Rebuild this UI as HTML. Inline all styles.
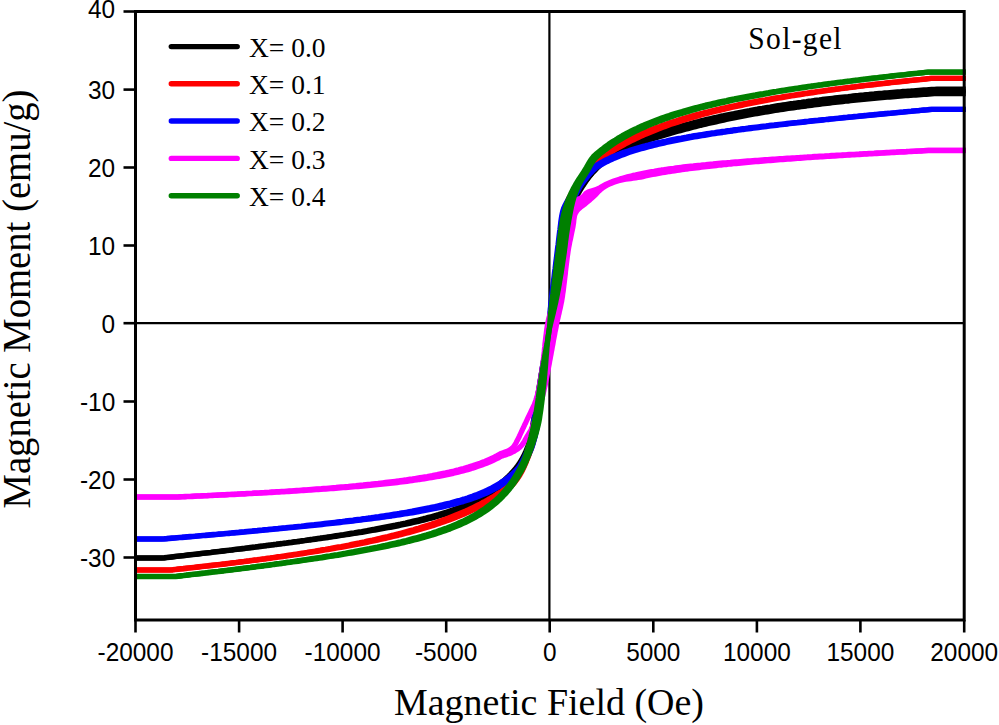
<!DOCTYPE html>
<html><head><meta charset="utf-8"><title>chart</title>
<style>
html,body{margin:0;padding:0;background:#fff;}
body{width:999px;height:725px;position:relative;overflow:hidden;font-family:"Liberation Sans",sans-serif;}
</style></head><body>
<svg width="999" height="725" viewBox="0 0 999 725" style="position:absolute;left:0;top:0">
<rect x="0" y="0" width="999" height="725" fill="#fff"/>
<g stroke="#000" stroke-width="2.2" fill="none">
<line x1="549.4" y1="11.5" x2="549.4" y2="620.0"/>
<line x1="135.5" y1="323.2" x2="964.2" y2="323.2"/>
</g>
<g id="curves">
<path d="M135.5,557.8 L138.1,557.8 L140.8,557.8 L143.4,557.8 L146.0,557.8 L148.6,557.8 L151.3,557.8 L153.9,557.8 L156.5,557.8 L159.1,557.8 L161.7,557.8 L164.3,557.7 L166.9,557.4 L169.5,557.1 L172.1,556.8 L174.7,556.5 L177.3,556.2 L179.9,555.9 L182.6,555.6 L185.2,555.3 L187.8,555.0 L190.4,554.7 L193.0,554.4 L195.6,554.1 L198.2,553.8 L200.8,553.5 L203.4,553.2 L206.0,552.9 L208.6,552.6 L211.2,552.3 L213.8,551.9 L216.4,551.6 L219.0,551.3 L221.6,551.0 L224.2,550.7 L226.8,550.4 L229.4,550.1 L232.0,549.8 L234.6,549.4 L237.2,549.1 L239.8,548.8 L242.4,548.5 L245.0,548.2 L247.6,547.8 L250.2,547.5 L252.8,547.2 L255.4,546.9 L258.0,546.5 L260.6,546.2 L263.2,545.9 L265.8,545.5 L268.4,545.2 L271.0,544.9 L273.6,544.5 L276.2,544.2 L278.8,543.8 L281.4,543.5 L284.0,543.1 L286.6,542.8 L289.2,542.4 L291.8,542.1 L294.4,541.7 L297.0,541.4 L299.6,541.0 L302.2,540.6 L304.8,540.3 L307.4,539.9 L310.0,539.5 L312.6,539.2 L315.2,538.8 L317.8,538.4 L320.4,538.0 L323.0,537.7 L325.6,537.3 L328.2,536.9 L330.8,536.5 L333.4,536.1 L335.9,535.7 L338.5,535.3 L341.1,534.9 L343.7,534.5 L346.3,534.0 L348.9,533.6 L351.5,533.2 L354.1,532.8 L356.6,532.3 L359.2,531.9 L361.8,531.5 L364.4,531.0 L367.0,530.6 L369.6,530.1 L372.1,529.6 L374.7,529.2 L377.3,528.7 L379.9,528.2 L382.4,527.7 L385.0,527.2 L387.6,526.7 L390.2,526.2 L392.7,525.7 L395.3,525.2 L397.9,524.6 L400.4,524.1 L403.0,523.5 L405.5,523.0 L408.1,522.4 L410.6,521.8 L413.2,521.2 L415.7,520.6 L418.3,520.0 L420.8,519.4 L423.4,518.7 L425.9,518.1 L428.4,517.4 L431.0,516.7 L433.5,516.0 L436.0,515.3 L438.5,514.6 L441.0,513.8 L443.5,513.0 L446.0,512.2 L448.5,511.4 L451.0,510.6 L453.4,509.7 L455.9,508.8 L458.3,507.9 L460.8,506.9 L463.2,506.0 L465.6,505.0 L468.0,503.9 L470.4,502.8 L472.7,501.7 L475.0,500.6 L477.4,499.4 L479.7,498.1 L481.9,496.8 L484.2,495.5 L486.4,494.1 L488.5,492.7 L490.7,491.2 L492.8,489.7 L494.8,488.1 L496.8,486.4 L498.8,484.7 L500.8,483.0 L502.8,481.4 L504.8,479.7 L506.7,477.9 L508.6,476.1 L510.4,474.3 L512.2,472.4 L513.9,470.4 L515.6,468.4 L517.2,466.4 L518.7,464.4 L520.1,462.2 L521.5,460.0 L522.7,457.7 L523.9,455.4 L525.1,453.1 L526.2,450.7 L527.1,448.3 L528.0,445.9 L528.8,443.4 L529.6,441.0 L530.2,438.5 L530.8,436.0 L531.4,433.5 L531.9,430.9 L532.4,428.4 L532.9,425.8 L533.4,423.2 L533.8,420.7 L534.3,418.1 L534.8,415.6 L535.2,413.0 L535.7,410.4 L536.1,407.9 L536.5,405.3 L536.9,402.7 L537.3,400.1 L537.7,397.5 L538.1,394.9 L538.6,392.3 L539.0,389.7 L539.4,387.2 L539.8,384.6 L540.2,382.0 L540.6,379.4 L541.0,376.8 L541.4,374.2 L541.8,371.6 L542.2,369.0 L542.6,366.4 L543.1,363.9 L543.5,361.3 L543.9,358.7 L544.4,356.1 L544.9,353.5 L545.4,350.9 L545.9,348.4 L546.4,345.8 L547.0,343.2 L547.4,340.6 L547.7,338.0 L548.1,335.4 L548.5,332.8 L548.9,330.2 L549.3,327.7 L549.5,325.0 L549.7,322.4 L549.8,319.8 L550.0,317.1 L550.3,314.5 L550.5,311.9 L550.8,309.3 L551.1,306.7 L551.4,304.1 L551.7,301.5 L552.0,298.9 L552.3,296.3 L552.6,293.7 L553.0,291.1 L553.3,288.5 L553.6,285.9 L553.9,283.3 L554.3,280.7 L554.6,278.1 L554.9,275.5 L555.2,272.9 L555.6,270.3 L555.9,267.7 L556.2,265.1 L556.6,262.5 L556.9,259.9 L557.2,257.3 L557.6,254.7 L557.9,252.1 L558.3,249.5 L558.6,246.9 L558.9,244.3 L559.3,241.7 L559.6,239.1 L559.9,236.5 L560.3,233.9 L560.6,231.3 L561.0,228.7 L561.3,226.1 L561.7,223.5 L562.1,220.8 L562.5,218.2 L563.1,215.6 L563.8,212.9 L564.7,210.2 L565.9,207.7 L567.1,205.2 L568.4,202.8 L569.9,200.6 L571.5,198.4 L573.2,196.3 L574.8,194.2 L576.5,192.1 L578.2,190.1 L579.9,188.1 L581.5,186.0 L583.2,184.0 L584.8,181.9 L586.5,179.9 L588.1,177.8 L589.8,175.7 L591.5,173.7 L593.2,171.6 L595.0,169.6 L596.8,167.5 L598.6,165.5 L600.3,163.4 L602.1,161.4 L603.9,159.2 L605.7,157.2 L607.6,155.2 L609.5,153.4 L611.6,151.6 L613.7,149.8 L615.9,148.2 L618.2,146.7 L620.5,145.5 L622.8,144.4 L625.3,143.5 L627.8,142.7 L630.3,141.9 L632.9,141.1 L635.4,140.3 L637.9,139.5 L640.3,138.6 L642.8,137.8 L645.3,136.9 L647.8,136.1 L650.3,135.2 L652.7,134.4 L655.2,133.6 L657.7,132.8 L660.2,132.1 L662.8,131.3 L665.3,130.5 L667.8,129.8 L670.3,129.0 L672.8,128.3 L675.3,127.6 L677.9,126.9 L680.4,126.2 L682.9,125.5 L685.4,124.8 L688.0,124.2 L690.5,123.5 L693.1,122.8 L695.6,122.2 L698.1,121.6 L700.7,120.9 L703.2,120.3 L705.8,119.7 L708.3,119.1 L710.9,118.5 L713.5,117.9 L716.0,117.4 L718.6,116.8 L721.1,116.2 L723.7,115.7 L726.3,115.1 L728.8,114.6 L731.4,114.1 L734.0,113.6 L736.5,113.0 L739.1,112.5 L741.7,112.0 L744.3,111.5 L746.8,111.0 L749.4,110.6 L752.0,110.1 L754.6,109.6 L757.1,109.2 L759.7,108.7 L762.3,108.3 L764.9,107.8 L767.5,107.4 L770.1,107.0 L772.7,106.5 L775.2,106.1 L777.8,105.7 L780.4,105.3 L783.0,104.9 L785.6,104.5 L788.2,104.1 L790.8,103.7 L793.4,103.4 L796.0,103.0 L798.6,102.6 L801.2,102.3 L803.8,101.9 L806.4,101.6 L809.0,101.2 L811.6,100.9 L814.2,100.5 L816.8,100.2 L819.4,99.9 L822.0,99.5 L824.6,99.2 L827.2,98.9 L829.8,98.6 L832.4,98.3 L835.0,98.0 L837.6,97.7 L840.2,97.4 L842.8,97.1 L845.4,96.8 L848.0,96.6 L850.6,96.3 L853.2,96.0 L855.8,95.7 L858.5,95.5 L861.1,95.2 L863.7,95.0 L866.3,94.7 L868.9,94.5 L871.5,94.2 L874.1,94.0 L876.7,93.7 L879.3,93.5 L882.0,93.3 L884.6,93.0 L887.2,92.8 L889.8,92.6 L892.4,92.4 L895.0,92.2 L897.6,92.0 L900.2,91.8 L902.9,91.5 L905.5,91.3 L908.1,91.1 L910.7,91.0 L913.3,90.8 L915.9,90.6 L918.5,90.4 L921.2,90.2 L923.8,90.0 L926.4,89.9 L929.0,89.7 L931.6,89.5 L934.2,89.3 L936.9,89.2 L939.5,89.2 L942.1,89.2 L944.7,89.2 L947.3,89.2 L950.0,89.2 L952.6,89.2 L955.2,89.2 L957.8,89.2 L960.4,89.2 L963.1,89.2 L965.7,89.2 L965.7,93.6 L963.1,93.6 L960.4,93.6 L957.8,93.6 L955.2,93.6 L952.6,93.6 L950.0,93.6 L947.3,93.6 L944.7,93.6 L942.1,93.6 L939.5,93.6 L936.9,93.6 L934.2,93.7 L931.6,93.9 L929.0,94.1 L926.4,94.3 L923.8,94.4 L921.2,94.6 L918.5,94.8 L915.9,95.0 L913.3,95.2 L910.7,95.4 L908.1,95.5 L905.5,95.7 L902.9,95.9 L900.2,96.2 L897.6,96.4 L895.0,96.6 L892.4,96.8 L889.8,97.0 L887.2,97.2 L884.6,97.4 L882.0,97.7 L879.3,97.9 L876.7,98.1 L874.1,98.4 L871.5,98.6 L868.9,98.9 L866.3,99.1 L863.7,99.4 L861.1,99.6 L858.5,99.9 L855.8,100.1 L853.2,100.4 L850.6,100.7 L848.0,101.0 L845.4,101.2 L842.8,101.5 L840.2,101.8 L837.6,102.1 L835.0,102.4 L832.4,102.7 L829.8,103.0 L827.2,103.3 L824.6,103.6 L822.0,103.9 L819.4,104.3 L816.8,104.6 L814.2,104.9 L811.6,105.3 L809.0,105.6 L806.4,106.0 L803.8,106.3 L801.2,106.7 L798.6,107.0 L796.0,107.4 L793.4,107.8 L790.8,108.1 L788.2,108.5 L785.6,108.9 L783.0,109.3 L780.4,109.7 L777.8,110.1 L775.2,110.5 L772.7,110.9 L770.1,111.4 L767.5,111.8 L764.9,112.2 L762.3,112.7 L759.7,113.1 L757.1,113.6 L754.6,114.0 L752.0,114.5 L749.4,115.0 L746.8,115.4 L744.3,115.9 L741.7,116.4 L739.1,116.9 L736.5,117.4 L734.0,118.0 L731.4,118.5 L728.8,119.0 L726.3,119.5 L723.7,120.1 L721.1,120.6 L718.6,121.2 L716.0,121.8 L713.5,122.3 L710.9,122.9 L708.3,123.5 L705.8,124.1 L703.2,124.7 L700.7,125.3 L698.1,126.0 L695.6,126.6 L693.1,127.2 L690.5,127.9 L688.0,128.6 L685.4,129.2 L682.9,129.9 L680.4,130.6 L677.9,131.3 L675.3,132.0 L672.8,132.7 L670.3,133.4 L667.8,134.2 L665.3,134.9 L662.8,135.7 L660.2,136.5 L657.7,137.2 L655.2,138.0 L652.7,138.8 L650.3,139.6 L647.8,140.5 L645.3,141.3 L642.8,142.2 L640.3,143.0 L637.9,143.9 L635.4,144.7 L632.9,145.5 L630.3,146.3 L627.8,147.1 L625.3,147.9 L622.8,148.8 L620.5,149.7 L618.2,150.8 L615.9,152.0 L613.7,153.4 L611.6,154.8 L609.5,156.3 L607.6,157.9 L605.7,159.5 L603.9,161.3 L602.1,163.1 L600.3,164.9 L598.6,166.7 L596.8,168.5 L595.0,170.3 L593.2,172.1 L591.5,174.0 L589.8,175.9 L588.3,178.0 L586.7,180.1 L585.3,182.3 L583.8,184.5 L582.4,186.7 L581.0,188.9 L579.6,191.1 L578.3,193.4 L577.0,195.6 L575.7,197.9 L574.4,200.2 L573.2,202.5 L572.2,204.8 L571.4,207.1 L570.6,209.5 L569.9,211.9 L569.4,214.3 L569.0,216.7 L568.7,219.2 L568.3,221.8 L568.0,224.3 L567.6,226.9 L567.2,229.6 L566.9,232.2 L566.5,234.8 L566.1,237.3 L565.7,239.9 L565.4,242.5 L565.0,245.1 L564.7,247.7 L564.3,250.3 L563.9,252.9 L563.5,255.5 L563.1,258.1 L562.7,260.7 L562.4,263.3 L562.0,265.9 L561.6,268.5 L561.1,271.1 L560.7,273.7 L560.3,276.3 L559.9,278.9 L559.4,281.4 L559.0,284.0 L558.5,286.6 L558.1,289.2 L557.6,291.8 L557.1,294.4 L556.6,297.0 L556.1,299.5 L555.5,302.1 L554.9,304.7 L554.4,307.2 L553.8,309.8 L553.2,312.4 L552.6,314.9 L552.0,317.5 L551.3,320.0 L550.7,322.6 L550.0,325.1 L549.3,327.7 L548.9,330.2 L548.5,332.8 L548.1,335.4 L547.7,338.0 L547.4,340.6 L547.0,343.2 L546.8,345.8 L546.6,348.4 L546.4,351.1 L546.1,353.7 L545.9,356.3 L545.7,358.9 L545.5,361.5 L545.3,364.1 L545.1,366.7 L544.8,369.4 L544.6,372.0 L544.3,374.6 L544.1,377.2 L543.8,379.8 L543.5,382.4 L543.2,385.0 L542.9,387.6 L542.6,390.2 L542.3,392.9 L542.0,395.5 L541.7,398.1 L541.3,400.7 L541.0,403.3 L540.6,405.9 L540.3,408.5 L539.9,411.1 L539.5,413.7 L539.1,416.3 L538.6,418.9 L538.2,421.5 L537.7,424.1 L537.1,426.7 L536.5,429.3 L535.9,431.8 L535.2,434.4 L534.4,436.9 L533.6,439.5 L532.7,442.0 L531.7,444.5 L530.7,446.9 L529.6,449.4 L528.4,451.8 L527.2,454.1 L525.9,456.4 L524.6,458.7 L523.2,461.0 L521.8,463.3 L520.4,465.5 L518.8,467.7 L517.1,469.7 L515.4,471.7 L513.6,473.7 L511.8,475.6 L510.0,477.5 L508.1,479.4 L506.1,481.2 L504.1,482.9 L502.1,484.6 L500.1,486.2 L498.1,487.9 L496.0,489.6 L493.9,491.3 L491.8,492.8 L489.6,494.3 L487.4,495.8 L485.1,497.1 L482.9,498.5 L480.6,499.8 L478.2,501.0 L475.9,502.2 L473.5,503.4 L471.1,504.5 L468.7,505.6 L466.3,506.6 L463.9,507.6 L461.4,508.6 L458.9,509.5 L456.5,510.4 L454.0,511.3 L451.5,512.1 L449.0,513.0 L446.5,513.8 L444.0,514.6 L441.5,515.3 L438.9,516.0 L436.4,516.8 L433.9,517.5 L431.4,518.1 L428.8,518.8 L426.3,519.5 L423.7,520.1 L421.2,520.7 L418.6,521.3 L416.1,521.9 L413.5,522.5 L410.9,523.1 L408.4,523.6 L405.8,524.2 L403.2,524.7 L400.7,525.2 L398.1,525.8 L395.5,526.3 L392.9,526.8 L390.4,527.3 L387.8,527.7 L385.2,528.2 L382.6,528.7 L380.0,529.2 L377.5,529.6 L374.9,530.1 L372.3,530.5 L369.7,531.0 L367.1,531.4 L364.5,531.8 L361.9,532.3 L359.4,532.7 L356.8,533.1 L354.2,533.5 L351.6,533.9 L349.0,534.3 L346.4,534.7 L343.8,535.1 L341.2,535.5 L338.6,535.9 L336.0,536.3 L333.4,536.7 L330.9,537.1 L328.3,537.5 L325.7,537.8 L323.1,538.2 L320.5,538.6 L317.9,538.9 L315.3,539.3 L312.7,539.7 L310.1,540.0 L307.5,540.4 L304.9,540.7 L302.3,541.1 L299.7,541.5 L297.1,541.8 L294.5,542.2 L291.9,542.5 L289.3,542.8 L286.7,543.2 L284.1,543.5 L281.5,543.9 L278.9,544.2 L276.3,544.5 L273.7,544.9 L271.1,545.2 L268.5,545.5 L265.9,545.9 L263.3,546.2 L260.7,546.5 L258.1,546.8 L255.5,547.2 L252.9,547.5 L250.3,547.8 L247.7,548.1 L245.1,548.5 L242.5,548.8 L239.9,549.1 L237.3,549.4 L234.7,549.7 L232.1,550.0 L229.5,550.4 L226.9,550.7 L224.3,551.0 L221.6,551.3 L219.0,551.6 L216.4,551.9 L213.8,552.2 L211.2,552.5 L208.6,552.8 L206.0,553.1 L203.4,553.4 L200.8,553.7 L198.2,554.0 L195.6,554.3 L193.0,554.6 L190.4,554.9 L187.8,555.2 L185.2,555.5 L182.6,555.8 L180.0,556.1 L177.4,556.4 L174.8,556.7 L172.2,557.0 L169.6,557.3 L167.0,557.7 L164.3,558.0 L161.7,558.1 L159.1,558.1 L156.5,558.1 L153.9,558.1 L151.3,558.1 L148.6,558.1 L146.0,558.1 L143.4,558.1 L140.8,558.1 L138.1,558.1 L135.5,558.1Z" fill="#000000" stroke="none"/>
<path d="M135.5,557.8 L138.1,557.8 L140.8,557.8 L143.4,557.8 L146.0,557.8 L148.6,557.8 L151.3,557.8 L153.9,557.8 L156.5,557.8 L159.1,557.8 L161.7,557.8 L164.3,557.7 L166.9,557.4 L169.5,557.1 L172.1,556.8 L174.7,556.5 L177.3,556.2 L179.9,555.9 L182.6,555.6 L185.2,555.3 L187.8,555.0 L190.4,554.7 L193.0,554.4 L195.6,554.1 L198.2,553.8 L200.8,553.5 L203.4,553.2 L206.0,552.9 L208.6,552.6 L211.2,552.3 L213.8,551.9 L216.4,551.6 L219.0,551.3 L221.6,551.0 L224.2,550.7 L226.8,550.4 L229.4,550.1 L232.0,549.8 L234.6,549.4 L237.2,549.1 L239.8,548.8 L242.4,548.5 L245.0,548.2 L247.6,547.8 L250.2,547.5 L252.8,547.2 L255.4,546.9 L258.0,546.5 L260.6,546.2 L263.2,545.9 L265.8,545.5 L268.4,545.2 L271.0,544.9 L273.6,544.5 L276.2,544.2 L278.8,543.8 L281.4,543.5 L284.0,543.1 L286.6,542.8 L289.2,542.4 L291.8,542.1 L294.4,541.7 L297.0,541.4 L299.6,541.0 L302.2,540.6 L304.8,540.3 L307.4,539.9 L310.0,539.5 L312.6,539.2 L315.2,538.8 L317.8,538.4 L320.4,538.0 L323.0,537.7 L325.6,537.3 L328.2,536.9 L330.8,536.5 L333.4,536.1 L335.9,535.7 L338.5,535.3 L341.1,534.9 L343.7,534.5 L346.3,534.0 L348.9,533.6 L351.5,533.2 L354.1,532.8 L356.6,532.3 L359.2,531.9 L361.8,531.5 L364.4,531.0 L367.0,530.6 L369.6,530.1 L372.1,529.6 L374.7,529.2 L377.3,528.7 L379.9,528.2 L382.4,527.7 L385.0,527.2 L387.6,526.7 L390.2,526.2 L392.7,525.7 L395.3,525.2 L397.9,524.6 L400.4,524.1 L403.0,523.5 L405.5,523.0 L408.1,522.4 L410.6,521.8 L413.2,521.2 L415.7,520.6 L418.3,520.0 L420.8,519.4 L423.4,518.7 L425.9,518.1 L428.4,517.4 L431.0,516.7 L433.5,516.0 L436.0,515.3 L438.5,514.6 L441.0,513.8 L443.5,513.0 L446.0,512.2 L448.5,511.4 L451.0,510.6 L453.4,509.7 L455.9,508.8 L458.3,507.9 L460.8,506.9 L463.2,506.0 L465.6,505.0 L468.0,503.9 L470.4,502.8 L472.7,501.7 L475.0,500.6 L477.4,499.4 L479.7,498.1 L481.9,496.8 L484.2,495.5 L486.4,494.1 L488.5,492.7 L490.7,491.2 L492.8,489.7 L494.8,488.1 L496.8,486.4 L498.8,484.7 L500.8,483.0 L502.8,481.4 L504.8,479.7 L506.7,477.9 L508.6,476.1 L510.4,474.3 L512.2,472.4 L513.9,470.4 L515.6,468.4 L517.2,466.4 L518.7,464.4 L520.1,462.2 L521.5,460.0 L522.7,457.7 L523.9,455.4 L525.1,453.1 L526.2,450.7 L527.1,448.3 L528.0,445.9 L528.8,443.4 L529.6,441.0 L530.2,438.5 L530.8,436.0 L531.4,433.5 L531.9,430.9 L532.4,428.4 L532.9,425.8 L533.4,423.2 L533.8,420.7 L534.3,418.1 L534.8,415.6 L535.2,413.0 L535.7,410.4 L536.1,407.9 L536.5,405.3 L536.9,402.7 L537.3,400.1 L537.7,397.5 L538.1,394.9 L538.6,392.3 L539.0,389.7 L539.4,387.2 L539.8,384.6 L540.2,382.0 L540.6,379.4 L541.0,376.8 L541.4,374.2 L541.8,371.6 L542.2,369.0 L542.6,366.4 L543.1,363.9 L543.5,361.3 L543.9,358.7 L544.4,356.1 L544.9,353.5 L545.4,350.9 L545.9,348.4 L546.4,345.8 L547.0,343.2 L547.4,340.6 L547.7,338.0 L548.1,335.4 L548.5,332.8 L548.9,330.2 L549.3,327.7 L549.5,325.0 L549.7,322.4 L549.8,319.8 L550.0,317.1 L550.3,314.5 L550.5,311.9 L550.8,309.3 L551.1,306.7 L551.4,304.1 L551.7,301.5 L552.0,298.9 L552.3,296.3 L552.6,293.7 L553.0,291.1 L553.3,288.5 L553.6,285.9 L553.9,283.3 L554.3,280.7 L554.6,278.1 L554.9,275.5 L555.2,272.9 L555.6,270.3 L555.9,267.7 L556.2,265.1 L556.6,262.5 L556.9,259.9 L557.2,257.3 L557.6,254.7 L557.9,252.1 L558.3,249.5 L558.6,246.9 L558.9,244.3 L559.3,241.7 L559.6,239.1 L559.9,236.5 L560.3,233.9 L560.6,231.3 L561.0,228.7 L561.3,226.1 L561.7,223.5 L562.1,220.8 L562.5,218.2 L563.1,215.6 L563.8,212.9 L564.7,210.2 L565.9,207.7 L567.1,205.2 L568.4,202.8 L569.9,200.6 L571.5,198.4 L573.2,196.3 L574.8,194.2 L576.5,192.1 L578.2,190.1 L579.9,188.1 L581.5,186.0 L583.2,184.0 L584.8,181.9 L586.5,179.9 L588.1,177.8 L589.8,175.7 L591.5,173.7 L593.2,171.6 L595.0,169.6 L596.8,167.5 L598.6,165.5 L600.3,163.4 L602.1,161.4 L603.9,159.2 L605.7,157.2 L607.6,155.2 L609.5,153.4 L611.6,151.6 L613.7,149.8 L615.9,148.2 L618.2,146.7 L620.5,145.5 L622.8,144.4 L625.3,143.5 L627.8,142.7 L630.3,141.9 L632.9,141.1 L635.4,140.3 L637.9,139.5 L640.3,138.6 L642.8,137.8 L645.3,136.9 L647.8,136.1 L650.3,135.2 L652.7,134.4 L655.2,133.6 L657.7,132.8 L660.2,132.1 L662.8,131.3 L665.3,130.5 L667.8,129.8 L670.3,129.0 L672.8,128.3 L675.3,127.6 L677.9,126.9 L680.4,126.2 L682.9,125.5 L685.4,124.8 L688.0,124.2 L690.5,123.5 L693.1,122.8 L695.6,122.2 L698.1,121.6 L700.7,120.9 L703.2,120.3 L705.8,119.7 L708.3,119.1 L710.9,118.5 L713.5,117.9 L716.0,117.4 L718.6,116.8 L721.1,116.2 L723.7,115.7 L726.3,115.1 L728.8,114.6 L731.4,114.1 L734.0,113.6 L736.5,113.0 L739.1,112.5 L741.7,112.0 L744.3,111.5 L746.8,111.0 L749.4,110.6 L752.0,110.1 L754.6,109.6 L757.1,109.2 L759.7,108.7 L762.3,108.3 L764.9,107.8 L767.5,107.4 L770.1,107.0 L772.7,106.5 L775.2,106.1 L777.8,105.7 L780.4,105.3 L783.0,104.9 L785.6,104.5 L788.2,104.1 L790.8,103.7 L793.4,103.4 L796.0,103.0 L798.6,102.6 L801.2,102.3 L803.8,101.9 L806.4,101.6 L809.0,101.2 L811.6,100.9 L814.2,100.5 L816.8,100.2 L819.4,99.9 L822.0,99.5 L824.6,99.2 L827.2,98.9 L829.8,98.6 L832.4,98.3 L835.0,98.0 L837.6,97.7 L840.2,97.4 L842.8,97.1 L845.4,96.8 L848.0,96.6 L850.6,96.3 L853.2,96.0 L855.8,95.7 L858.5,95.5 L861.1,95.2 L863.7,95.0 L866.3,94.7 L868.9,94.5 L871.5,94.2 L874.1,94.0 L876.7,93.7 L879.3,93.5 L882.0,93.3 L884.6,93.0 L887.2,92.8 L889.8,92.6 L892.4,92.4 L895.0,92.2 L897.6,92.0 L900.2,91.8 L902.9,91.5 L905.5,91.3 L908.1,91.1 L910.7,91.0 L913.3,90.8 L915.9,90.6 L918.5,90.4 L921.2,90.2 L923.8,90.0 L926.4,89.9 L929.0,89.7 L931.6,89.5 L934.2,89.3 L936.9,89.2 L939.5,89.2 L942.1,89.2 L944.7,89.2 L947.3,89.2 L950.0,89.2 L952.6,89.2 L955.2,89.2 L957.8,89.2 L960.4,89.2 L963.1,89.2 L965.7,89.2" fill="none" stroke="#000000" stroke-width="5.3" stroke-linejoin="round"/>
<path d="M135.5,558.1 L138.1,558.1 L140.8,558.1 L143.4,558.1 L146.0,558.1 L148.6,558.1 L151.3,558.1 L153.9,558.1 L156.5,558.1 L159.1,558.1 L161.7,558.1 L164.3,558.0 L167.0,557.7 L169.6,557.3 L172.2,557.0 L174.8,556.7 L177.4,556.4 L180.0,556.1 L182.6,555.8 L185.2,555.5 L187.8,555.2 L190.4,554.9 L193.0,554.6 L195.6,554.3 L198.2,554.0 L200.8,553.7 L203.4,553.4 L206.0,553.1 L208.6,552.8 L211.2,552.5 L213.8,552.2 L216.4,551.9 L219.0,551.6 L221.6,551.3 L224.3,551.0 L226.9,550.7 L229.5,550.4 L232.1,550.0 L234.7,549.7 L237.3,549.4 L239.9,549.1 L242.5,548.8 L245.1,548.5 L247.7,548.1 L250.3,547.8 L252.9,547.5 L255.5,547.2 L258.1,546.8 L260.7,546.5 L263.3,546.2 L265.9,545.9 L268.5,545.5 L271.1,545.2 L273.7,544.9 L276.3,544.5 L278.9,544.2 L281.5,543.9 L284.1,543.5 L286.7,543.2 L289.3,542.8 L291.9,542.5 L294.5,542.2 L297.1,541.8 L299.7,541.5 L302.3,541.1 L304.9,540.7 L307.5,540.4 L310.1,540.0 L312.7,539.7 L315.3,539.3 L317.9,538.9 L320.5,538.6 L323.1,538.2 L325.7,537.8 L328.3,537.5 L330.9,537.1 L333.4,536.7 L336.0,536.3 L338.6,535.9 L341.2,535.5 L343.8,535.1 L346.4,534.7 L349.0,534.3 L351.6,533.9 L354.2,533.5 L356.8,533.1 L359.4,532.7 L361.9,532.3 L364.5,531.8 L367.1,531.4 L369.7,531.0 L372.3,530.5 L374.9,530.1 L377.5,529.6 L380.0,529.2 L382.6,528.7 L385.2,528.2 L387.8,527.7 L390.4,527.3 L392.9,526.8 L395.5,526.3 L398.1,525.8 L400.7,525.2 L403.2,524.7 L405.8,524.2 L408.4,523.6 L410.9,523.1 L413.5,522.5 L416.1,521.9 L418.6,521.3 L421.2,520.7 L423.7,520.1 L426.3,519.5 L428.8,518.8 L431.4,518.1 L433.9,517.5 L436.4,516.8 L438.9,516.0 L441.5,515.3 L444.0,514.6 L446.5,513.8 L449.0,513.0 L451.5,512.1 L454.0,511.3 L456.5,510.4 L458.9,509.5 L461.4,508.6 L463.9,507.6 L466.3,506.6 L468.7,505.6 L471.1,504.5 L473.5,503.4 L475.9,502.2 L478.2,501.0 L480.6,499.8 L482.9,498.5 L485.1,497.1 L487.4,495.8 L489.6,494.3 L491.8,492.8 L493.9,491.3 L496.0,489.6 L498.1,487.9 L500.1,486.2 L502.1,484.6 L504.1,482.9 L506.1,481.2 L508.1,479.4 L510.0,477.5 L511.8,475.6 L513.6,473.7 L515.4,471.7 L517.1,469.7 L518.8,467.7 L520.4,465.5 L521.8,463.3 L523.2,461.0 L524.6,458.7 L525.9,456.4 L527.2,454.1 L528.4,451.8 L529.6,449.4 L530.7,446.9 L531.7,444.5 L532.7,442.0 L533.6,439.5 L534.4,436.9 L535.2,434.4 L535.9,431.8 L536.5,429.3 L537.1,426.7 L537.7,424.1 L538.2,421.5 L538.6,418.9 L539.1,416.3 L539.5,413.7 L539.9,411.1 L540.3,408.5 L540.6,405.9 L541.0,403.3 L541.3,400.7 L541.7,398.1 L542.0,395.5 L542.3,392.9 L542.6,390.2 L542.9,387.6 L543.2,385.0 L543.5,382.4 L543.8,379.8 L544.1,377.2 L544.3,374.6 L544.6,372.0 L544.8,369.4 L545.1,366.7 L545.3,364.1 L545.5,361.5 L545.7,358.9 L545.9,356.3 L546.1,353.7 L546.4,351.1 L546.6,348.4 L546.8,345.8 L547.0,343.2 L547.4,340.6 L547.7,338.0 L548.1,335.4 L548.5,332.8 L548.9,330.2 L549.3,327.7 L550.0,325.1 L550.7,322.6 L551.3,320.0 L552.0,317.5 L552.6,314.9 L553.2,312.4 L553.8,309.8 L554.4,307.2 L554.9,304.7 L555.5,302.1 L556.1,299.5 L556.6,297.0 L557.1,294.4 L557.6,291.8 L558.1,289.2 L558.5,286.6 L559.0,284.0 L559.4,281.4 L559.9,278.9 L560.3,276.3 L560.7,273.7 L561.1,271.1 L561.6,268.5 L562.0,265.9 L562.4,263.3 L562.7,260.7 L563.1,258.1 L563.5,255.5 L563.9,252.9 L564.3,250.3 L564.7,247.7 L565.0,245.1 L565.4,242.5 L565.7,239.9 L566.1,237.3 L566.5,234.8 L566.9,232.2 L567.2,229.6 L567.6,226.9 L568.0,224.3 L568.3,221.8 L568.7,219.2 L569.0,216.7 L569.4,214.3 L569.9,211.9 L570.6,209.5 L571.4,207.1 L572.2,204.8 L573.2,202.5 L574.4,200.2 L575.7,197.9 L577.0,195.6 L578.3,193.4 L579.6,191.1 L581.0,188.9 L582.4,186.7 L583.8,184.5 L585.3,182.3 L586.7,180.1 L588.3,178.0 L589.8,175.9 L591.5,174.0 L593.2,172.1 L595.0,170.3 L596.8,168.5 L598.6,166.7 L600.3,164.9 L602.1,163.1 L603.9,161.3 L605.7,159.5 L607.6,157.9 L609.5,156.3 L611.6,154.8 L613.7,153.4 L615.9,152.0 L618.2,150.8 L620.5,149.7 L622.8,148.8 L625.3,147.9 L627.8,147.1 L630.3,146.3 L632.9,145.5 L635.4,144.7 L637.9,143.9 L640.3,143.0 L642.8,142.2 L645.3,141.3 L647.8,140.5 L650.3,139.6 L652.7,138.8 L655.2,138.0 L657.7,137.2 L660.2,136.5 L662.8,135.7 L665.3,134.9 L667.8,134.2 L670.3,133.4 L672.8,132.7 L675.3,132.0 L677.9,131.3 L680.4,130.6 L682.9,129.9 L685.4,129.2 L688.0,128.6 L690.5,127.9 L693.1,127.2 L695.6,126.6 L698.1,126.0 L700.7,125.3 L703.2,124.7 L705.8,124.1 L708.3,123.5 L710.9,122.9 L713.5,122.3 L716.0,121.8 L718.6,121.2 L721.1,120.6 L723.7,120.1 L726.3,119.5 L728.8,119.0 L731.4,118.5 L734.0,118.0 L736.5,117.4 L739.1,116.9 L741.7,116.4 L744.3,115.9 L746.8,115.4 L749.4,115.0 L752.0,114.5 L754.6,114.0 L757.1,113.6 L759.7,113.1 L762.3,112.7 L764.9,112.2 L767.5,111.8 L770.1,111.4 L772.7,110.9 L775.2,110.5 L777.8,110.1 L780.4,109.7 L783.0,109.3 L785.6,108.9 L788.2,108.5 L790.8,108.1 L793.4,107.8 L796.0,107.4 L798.6,107.0 L801.2,106.7 L803.8,106.3 L806.4,106.0 L809.0,105.6 L811.6,105.3 L814.2,104.9 L816.8,104.6 L819.4,104.3 L822.0,103.9 L824.6,103.6 L827.2,103.3 L829.8,103.0 L832.4,102.7 L835.0,102.4 L837.6,102.1 L840.2,101.8 L842.8,101.5 L845.4,101.2 L848.0,101.0 L850.6,100.7 L853.2,100.4 L855.8,100.1 L858.5,99.9 L861.1,99.6 L863.7,99.4 L866.3,99.1 L868.9,98.9 L871.5,98.6 L874.1,98.4 L876.7,98.1 L879.3,97.9 L882.0,97.7 L884.6,97.4 L887.2,97.2 L889.8,97.0 L892.4,96.8 L895.0,96.6 L897.6,96.4 L900.2,96.2 L902.9,95.9 L905.5,95.7 L908.1,95.5 L910.7,95.4 L913.3,95.2 L915.9,95.0 L918.5,94.8 L921.2,94.6 L923.8,94.4 L926.4,94.3 L929.0,94.1 L931.6,93.9 L934.2,93.7 L936.9,93.6 L939.5,93.6 L942.1,93.6 L944.7,93.6 L947.3,93.6 L950.0,93.6 L952.6,93.6 L955.2,93.6 L957.8,93.6 L960.4,93.6 L963.1,93.6 L965.7,93.6" fill="none" stroke="#000000" stroke-width="5.3" stroke-linejoin="round"/>
<path d="M135.5,569.9 L138.2,569.9 L140.8,569.9 L143.5,569.9 L146.2,569.9 L148.8,569.9 L151.5,569.9 L154.1,569.9 L156.8,569.9 L159.4,569.9 L162.1,569.9 L164.7,569.9 L167.4,569.9 L170.0,569.9 L172.7,569.7 L175.3,569.3 L177.9,569.0 L180.6,568.7 L183.2,568.5 L185.9,568.2 L188.5,567.9 L191.2,567.6 L193.8,567.3 L196.4,567.0 L199.1,566.7 L201.7,566.4 L204.4,566.1 L207.0,565.8 L209.6,565.5 L212.3,565.2 L214.9,564.9 L217.6,564.6 L220.2,564.3 L222.8,564.0 L225.5,563.7 L228.1,563.3 L230.7,563.0 L233.4,562.7 L236.0,562.4 L238.6,562.0 L241.3,561.7 L243.9,561.4 L246.6,561.0 L249.2,560.7 L251.8,560.3 L254.5,560.0 L257.1,559.7 L259.7,559.3 L262.4,558.9 L265.0,558.6 L267.6,558.2 L270.3,557.9 L272.9,557.5 L275.5,557.1 L278.1,556.7 L280.8,556.4 L283.4,556.0 L286.0,555.6 L288.7,555.2 L291.3,554.8 L293.9,554.4 L296.5,554.0 L299.2,553.6 L301.8,553.2 L304.4,552.8 L307.0,552.4 L309.7,551.9 L312.3,551.5 L314.9,551.1 L317.5,550.6 L320.1,550.2 L322.8,549.7 L325.4,549.3 L328.0,548.8 L330.6,548.4 L333.2,547.9 L335.8,547.4 L338.4,546.9 L341.1,546.5 L343.7,546.0 L346.3,545.5 L348.9,545.0 L351.5,544.4 L354.1,543.9 L356.7,543.4 L359.3,542.9 L361.9,542.3 L364.5,541.8 L367.1,541.2 L369.7,540.6 L372.3,540.1 L374.9,539.5 L377.5,538.9 L380.0,538.3 L382.6,537.7 L385.2,537.1 L387.8,536.5 L390.4,535.8 L392.9,535.2 L395.5,534.5 L398.1,533.9 L400.6,533.2 L403.2,532.5 L405.8,531.8 L408.3,531.1 L410.9,530.4 L413.4,529.7 L416.0,528.9 L418.5,528.2 L421.1,527.4 L423.6,526.6 L426.1,525.8 L428.6,525.0 L431.2,524.2 L433.7,523.3 L436.2,522.5 L438.7,521.6 L441.2,520.7 L443.7,519.8 L446.2,518.9 L448.6,518.0 L451.1,517.0 L453.6,516.0 L456.0,515.0 L458.5,514.0 L460.9,513.0 L463.4,511.9 L465.8,510.9 L468.2,509.8 L470.6,508.7 L473.0,507.5 L475.3,506.4 L477.7,505.2 L480.1,504.0 L482.4,502.7 L484.7,501.5 L487.0,500.2 L489.3,498.9 L491.6,497.5 L493.9,496.2 L496.1,494.8 L498.3,493.3 L500.6,491.9 L502.8,490.5 L504.8,488.9 L506.7,487.2 L508.6,485.4 L510.4,483.5 L512.2,481.5 L513.8,479.5 L515.3,477.5 L516.8,475.3 L518.1,473.0 L519.4,470.7 L520.6,468.4 L521.8,466.1 L522.8,463.7 L523.8,461.3 L524.8,458.8 L525.6,456.3 L526.5,453.8 L527.3,451.3 L528.1,448.7 L528.8,446.2 L529.4,443.7 L529.9,441.1 L530.4,438.5 L530.9,436.0 L531.3,433.4 L531.8,430.8 L532.2,428.1 L532.6,425.5 L533.1,422.9 L533.5,420.3 L534.0,417.7 L534.4,415.1 L534.9,412.4 L535.3,409.8 L535.8,407.2 L536.2,404.6 L536.7,402.0 L537.1,399.4 L537.5,396.8 L538.0,394.1 L538.4,391.5 L538.9,388.9 L539.3,386.3 L539.7,383.7 L540.2,381.0 L540.6,378.4 L541.0,375.8 L541.5,373.2 L541.9,370.6 L542.4,367.9 L542.8,365.3 L543.3,362.7 L543.7,360.1 L544.2,357.5 L544.7,354.9 L545.2,352.2 L545.7,349.6 L546.3,347.0 L546.8,344.4 L547.3,341.8 L547.7,339.2 L548.1,336.6 L548.5,333.9 L548.9,331.3 L549.3,328.7 L549.6,326.0 L549.7,323.4 L549.9,320.7 L550.1,318.0 L550.3,315.4 L550.5,312.7 L550.8,310.1 L551.1,307.4 L551.4,304.8 L551.7,302.1 L552.0,299.5 L552.3,296.9 L552.7,294.2 L553.0,291.6 L553.3,289.0 L553.6,286.3 L554.0,283.7 L554.3,281.1 L554.6,278.4 L555.0,275.8 L555.3,273.2 L555.6,270.5 L556.0,267.9 L556.3,265.3 L556.7,262.6 L557.0,260.0 L557.3,257.4 L557.7,254.7 L558.0,252.1 L558.3,249.5 L558.7,246.9 L559.0,244.2 L559.3,241.6 L559.6,238.9 L560.0,236.3 L560.3,233.6 L560.7,231.0 L561.1,228.4 L561.4,225.7 L561.8,223.1 L562.3,220.4 L562.8,217.8 L563.3,215.1 L563.9,212.5 L564.6,209.8 L565.4,207.2 L566.3,204.6 L567.3,202.0 L568.3,199.5 L569.5,197.0 L570.8,194.6 L572.2,192.2 L573.6,189.9 L575.0,187.6 L576.5,185.4 L577.9,183.1 L579.5,180.9 L581.0,178.7 L582.5,176.5 L584.1,174.3 L585.6,172.1 L587.1,169.9 L588.7,167.7 L590.3,165.6 L592.0,163.5 L593.8,161.4 L595.7,159.5 L597.7,157.7 L599.9,156.0 L602.2,154.5 L604.5,153.2 L606.9,151.9 L609.1,150.5 L611.4,149.1 L613.7,147.7 L616.0,146.4 L618.3,145.0 L620.6,143.8 L623.0,142.5 L625.3,141.2 L627.7,140.0 L630.1,138.8 L632.5,137.7 L634.9,136.5 L637.3,135.4 L639.8,134.3 L642.2,133.3 L644.7,132.2 L647.1,131.2 L649.6,130.2 L652.1,129.2 L654.6,128.2 L657.0,127.3 L659.5,126.4 L662.0,125.4 L664.6,124.6 L667.1,123.7 L669.6,122.8 L672.1,122.0 L674.7,121.2 L677.2,120.4 L679.7,119.6 L682.3,118.8 L684.8,118.0 L687.4,117.3 L689.9,116.5 L692.5,115.8 L695.1,115.1 L697.6,114.4 L700.2,113.7 L702.8,113.1 L705.4,112.4 L707.9,111.8 L710.5,111.1 L713.1,110.5 L715.7,109.9 L718.3,109.3 L720.9,108.7 L723.5,108.1 L726.1,107.5 L728.7,106.9 L731.3,106.4 L733.9,105.8 L736.5,105.3 L739.1,104.7 L741.7,104.2 L744.3,103.7 L746.9,103.2 L749.5,102.7 L752.1,102.2 L754.7,101.7 L757.3,101.2 L759.9,100.7 L762.6,100.2 L765.2,99.8 L767.8,99.3 L770.4,98.8 L773.0,98.4 L775.7,97.9 L778.3,97.5 L780.9,97.1 L783.5,96.6 L786.1,96.2 L788.8,95.8 L791.4,95.4 L794.0,95.0 L796.6,94.6 L799.3,94.2 L801.9,93.8 L804.5,93.4 L807.2,93.0 L809.8,92.6 L812.4,92.2 L815.0,91.9 L817.7,91.5 L820.3,91.1 L822.9,90.8 L825.6,90.4 L828.2,90.0 L830.8,89.7 L833.5,89.3 L836.1,89.0 L838.7,88.7 L841.4,88.3 L844.0,88.0 L846.6,87.6 L849.3,87.3 L851.9,87.0 L854.6,86.7 L857.2,86.3 L859.8,86.0 L862.5,85.7 L865.1,85.4 L867.7,85.1 L870.4,84.8 L873.0,84.5 L875.7,84.2 L878.3,83.9 L880.9,83.6 L883.6,83.3 L886.2,83.0 L888.9,82.7 L891.5,82.4 L894.2,82.1 L896.8,81.8 L899.4,81.5 L902.1,81.3 L904.7,81.0 L907.4,80.7 L910.0,80.4 L912.6,80.2 L915.3,79.9 L917.9,79.6 L920.6,79.4 L923.2,79.1 L925.9,78.9 L928.5,78.6 L931.2,78.3 L933.8,78.3 L936.5,78.3 L939.1,78.3 L941.8,78.3 L944.4,78.3 L947.1,78.3 L949.7,78.3 L952.4,78.3 L955.0,78.3 L957.7,78.3 L960.4,78.3 L963.0,78.3 L965.7,78.3 L965.7,78.4 L963.0,78.4 L960.4,78.4 L957.7,78.4 L955.0,78.4 L952.4,78.4 L949.7,78.4 L947.1,78.4 L944.4,78.4 L941.8,78.4 L939.1,78.4 L936.5,78.4 L933.8,78.4 L931.2,78.4 L928.5,78.7 L925.9,79.0 L923.2,79.3 L920.6,79.6 L918.0,79.9 L915.3,80.1 L912.7,80.4 L910.0,80.7 L907.4,81.0 L904.7,81.3 L902.1,81.5 L899.5,81.8 L896.8,82.1 L894.2,82.4 L891.5,82.7 L888.9,83.0 L886.3,83.3 L883.6,83.6 L881.0,83.9 L878.3,84.2 L875.7,84.5 L873.1,84.8 L870.4,85.1 L867.8,85.4 L865.2,85.7 L862.5,86.0 L859.9,86.4 L857.2,86.7 L854.6,87.0 L852.0,87.4 L849.3,87.7 L846.7,88.0 L844.1,88.4 L841.4,88.7 L838.8,89.1 L836.2,89.4 L833.5,89.8 L830.9,90.1 L828.3,90.5 L825.6,90.9 L823.0,91.2 L820.4,91.6 L817.7,92.0 L815.1,92.4 L812.5,92.8 L809.9,93.2 L807.2,93.5 L804.6,93.9 L802.0,94.4 L799.4,94.8 L796.7,95.2 L794.1,95.6 L791.5,96.0 L788.9,96.5 L786.3,96.9 L783.6,97.3 L781.0,97.8 L778.4,98.2 L775.8,98.7 L773.2,99.2 L770.6,99.6 L767.9,100.1 L765.3,100.6 L762.7,101.1 L760.1,101.6 L757.5,102.1 L754.9,102.6 L752.3,103.1 L749.7,103.6 L747.1,104.2 L744.5,104.7 L741.9,105.3 L739.3,105.8 L736.7,106.4 L734.1,106.9 L731.5,107.5 L728.9,108.1 L726.3,108.7 L723.8,109.3 L721.2,109.9 L718.6,110.6 L716.0,111.2 L713.4,111.8 L710.9,112.5 L708.3,113.2 L705.7,113.8 L703.2,114.5 L700.6,115.2 L698.1,115.9 L695.5,116.7 L693.0,117.4 L690.4,118.2 L687.9,118.9 L685.3,119.7 L682.8,120.5 L680.3,121.3 L677.8,122.1 L675.2,122.9 L672.7,123.8 L670.2,124.6 L667.7,125.5 L665.2,126.4 L662.7,127.3 L660.3,128.3 L657.8,129.2 L655.3,130.2 L652.9,131.2 L650.4,132.2 L648.0,133.2 L645.5,134.2 L643.1,135.3 L640.7,136.4 L638.3,137.5 L635.9,138.6 L633.5,139.8 L631.1,140.9 L628.8,142.1 L626.4,143.3 L624.1,144.6 L621.8,145.9 L619.5,147.2 L617.2,148.5 L614.9,149.8 L612.7,151.2 L610.4,152.6 L608.1,154.0 L605.8,155.3 L603.5,156.7 L601.4,158.1 L599.4,159.6 L597.4,161.3 L595.6,163.2 L593.9,165.1 L592.3,167.1 L590.7,169.2 L589.2,171.4 L587.7,173.6 L586.2,175.8 L584.7,178.0 L583.2,180.2 L581.8,182.4 L580.5,184.7 L579.2,187.0 L578.0,189.3 L576.8,191.7 L575.7,194.1 L574.6,196.4 L573.6,198.8 L572.8,201.2 L572.0,203.6 L571.4,206.1 L570.8,208.7 L570.3,211.2 L569.8,213.7 L569.4,216.3 L568.9,218.9 L568.5,221.5 L568.1,224.1 L567.7,226.7 L567.3,229.3 L566.9,231.9 L566.5,234.5 L566.1,237.1 L565.8,239.7 L565.4,242.4 L565.1,245.0 L564.7,247.6 L564.4,250.3 L564.0,252.9 L563.6,255.6 L563.2,258.2 L562.8,260.8 L562.4,263.5 L562.0,266.1 L561.6,268.7 L561.2,271.3 L560.8,274.0 L560.4,276.6 L559.9,279.2 L559.5,281.8 L559.0,284.5 L558.6,287.1 L558.1,289.7 L557.6,292.3 L557.1,294.9 L556.6,297.6 L556.0,300.2 L555.5,302.8 L554.9,305.4 L554.3,308.0 L553.7,310.6 L553.1,313.1 L552.5,315.7 L551.8,318.3 L551.2,320.9 L550.5,323.5 L549.8,326.1 L549.3,328.7 L548.9,331.3 L548.5,333.9 L548.1,336.6 L547.7,339.2 L547.3,341.8 L547.0,344.4 L546.8,347.1 L546.6,349.8 L546.3,352.4 L546.1,355.1 L545.9,357.7 L545.6,360.3 L545.4,363.0 L545.1,365.6 L544.9,368.3 L544.6,370.9 L544.3,373.6 L544.0,376.2 L543.8,378.9 L543.4,381.5 L543.1,384.2 L542.8,386.8 L542.5,389.4 L542.1,392.1 L541.8,394.7 L541.4,397.3 L541.1,400.0 L540.7,402.6 L540.3,405.3 L539.9,407.9 L539.6,410.5 L539.2,413.2 L538.7,415.8 L538.3,418.4 L537.9,421.0 L537.4,423.7 L536.9,426.3 L536.4,428.9 L535.9,431.5 L535.3,434.1 L534.7,436.7 L534.1,439.4 L533.4,441.9 L532.6,444.5 L531.8,447.1 L530.9,449.7 L530.0,452.2 L529.1,454.7 L528.1,457.2 L527.1,459.7 L526.2,462.2 L525.1,464.7 L524.0,467.1 L522.9,469.5 L521.6,471.9 L520.3,474.3 L518.9,476.6 L517.4,478.9 L515.8,481.0 L514.1,483.1 L512.3,485.2 L510.4,487.2 L508.4,489.1 L506.3,490.8 L504.2,492.5 L501.9,494.0 L499.7,495.4 L497.4,496.8 L495.1,498.2 L492.8,499.6 L490.5,501.0 L488.2,502.3 L485.9,503.6 L483.5,504.8 L481.1,506.1 L478.8,507.3 L476.4,508.4 L474.0,509.6 L471.5,510.7 L469.1,511.8 L466.7,512.9 L464.2,514.0 L461.8,515.0 L459.3,516.0 L456.8,517.0 L454.4,518.0 L451.9,519.0 L449.4,519.9 L446.9,520.8 L444.4,521.7 L441.9,522.6 L439.3,523.5 L436.8,524.3 L434.3,525.1 L431.7,525.9 L429.2,526.7 L426.7,527.5 L424.1,528.3 L421.6,529.0 L419.0,529.8 L416.4,530.5 L413.9,531.2 L411.3,531.9 L408.7,532.6 L406.2,533.3 L403.6,534.0 L401.0,534.6 L398.4,535.3 L395.9,535.9 L393.3,536.5 L390.7,537.1 L388.1,537.7 L385.5,538.3 L382.9,538.9 L380.3,539.5 L377.7,540.1 L375.1,540.6 L372.5,541.2 L369.9,541.7 L367.3,542.3 L364.7,542.8 L362.1,543.3 L359.5,543.8 L356.9,544.4 L354.3,544.9 L351.7,545.4 L349.0,545.8 L346.4,546.3 L343.8,546.8 L341.2,547.3 L338.6,547.7 L336.0,548.2 L333.4,548.7 L330.7,549.1 L328.1,549.6 L325.5,550.0 L322.9,550.4 L320.2,550.9 L317.6,551.3 L315.0,551.7 L312.4,552.1 L309.8,552.5 L307.1,553.0 L304.5,553.4 L301.9,553.8 L299.2,554.2 L296.6,554.6 L294.0,554.9 L291.4,555.3 L288.7,555.7 L286.1,556.1 L283.5,556.5 L280.8,556.8 L278.2,557.2 L275.6,557.6 L272.9,557.9 L270.3,558.3 L267.7,558.7 L265.0,559.0 L262.4,559.4 L259.8,559.7 L257.1,560.1 L254.5,560.4 L251.9,560.7 L249.2,561.1 L246.6,561.4 L244.0,561.7 L241.3,562.1 L238.7,562.4 L236.1,562.7 L233.4,563.0 L230.8,563.4 L228.1,563.7 L225.5,564.0 L222.9,564.3 L220.2,564.6 L217.6,564.9 L215.0,565.2 L212.3,565.5 L209.7,565.8 L207.0,566.1 L204.4,566.4 L201.8,566.7 L199.1,567.0 L196.5,567.3 L193.8,567.6 L191.2,567.9 L188.5,568.2 L185.9,568.5 L183.3,568.8 L180.6,569.1 L178.0,569.3 L175.3,569.6 L172.7,570.0 L170.0,570.2 L167.4,570.2 L164.7,570.2 L162.1,570.2 L159.4,570.2 L156.8,570.2 L154.1,570.2 L151.5,570.2 L148.8,570.2 L146.2,570.2 L143.5,570.2 L140.8,570.2 L138.2,570.2 L135.5,570.2Z" fill="#ff0000" stroke="none"/>
<path d="M135.5,569.9 L138.2,569.9 L140.8,569.9 L143.5,569.9 L146.2,569.9 L148.8,569.9 L151.5,569.9 L154.1,569.9 L156.8,569.9 L159.4,569.9 L162.1,569.9 L164.7,569.9 L167.4,569.9 L170.0,569.9 L172.7,569.7 L175.3,569.3 L177.9,569.0 L180.6,568.7 L183.2,568.5 L185.9,568.2 L188.5,567.9 L191.2,567.6 L193.8,567.3 L196.4,567.0 L199.1,566.7 L201.7,566.4 L204.4,566.1 L207.0,565.8 L209.6,565.5 L212.3,565.2 L214.9,564.9 L217.6,564.6 L220.2,564.3 L222.8,564.0 L225.5,563.7 L228.1,563.3 L230.7,563.0 L233.4,562.7 L236.0,562.4 L238.6,562.0 L241.3,561.7 L243.9,561.4 L246.6,561.0 L249.2,560.7 L251.8,560.3 L254.5,560.0 L257.1,559.7 L259.7,559.3 L262.4,558.9 L265.0,558.6 L267.6,558.2 L270.3,557.9 L272.9,557.5 L275.5,557.1 L278.1,556.7 L280.8,556.4 L283.4,556.0 L286.0,555.6 L288.7,555.2 L291.3,554.8 L293.9,554.4 L296.5,554.0 L299.2,553.6 L301.8,553.2 L304.4,552.8 L307.0,552.4 L309.7,551.9 L312.3,551.5 L314.9,551.1 L317.5,550.6 L320.1,550.2 L322.8,549.7 L325.4,549.3 L328.0,548.8 L330.6,548.4 L333.2,547.9 L335.8,547.4 L338.4,546.9 L341.1,546.5 L343.7,546.0 L346.3,545.5 L348.9,545.0 L351.5,544.4 L354.1,543.9 L356.7,543.4 L359.3,542.9 L361.9,542.3 L364.5,541.8 L367.1,541.2 L369.7,540.6 L372.3,540.1 L374.9,539.5 L377.5,538.9 L380.0,538.3 L382.6,537.7 L385.2,537.1 L387.8,536.5 L390.4,535.8 L392.9,535.2 L395.5,534.5 L398.1,533.9 L400.6,533.2 L403.2,532.5 L405.8,531.8 L408.3,531.1 L410.9,530.4 L413.4,529.7 L416.0,528.9 L418.5,528.2 L421.1,527.4 L423.6,526.6 L426.1,525.8 L428.6,525.0 L431.2,524.2 L433.7,523.3 L436.2,522.5 L438.7,521.6 L441.2,520.7 L443.7,519.8 L446.2,518.9 L448.6,518.0 L451.1,517.0 L453.6,516.0 L456.0,515.0 L458.5,514.0 L460.9,513.0 L463.4,511.9 L465.8,510.9 L468.2,509.8 L470.6,508.7 L473.0,507.5 L475.3,506.4 L477.7,505.2 L480.1,504.0 L482.4,502.7 L484.7,501.5 L487.0,500.2 L489.3,498.9 L491.6,497.5 L493.9,496.2 L496.1,494.8 L498.3,493.3 L500.6,491.9 L502.8,490.5 L504.8,488.9 L506.7,487.2 L508.6,485.4 L510.4,483.5 L512.2,481.5 L513.8,479.5 L515.3,477.5 L516.8,475.3 L518.1,473.0 L519.4,470.7 L520.6,468.4 L521.8,466.1 L522.8,463.7 L523.8,461.3 L524.8,458.8 L525.6,456.3 L526.5,453.8 L527.3,451.3 L528.1,448.7 L528.8,446.2 L529.4,443.7 L529.9,441.1 L530.4,438.5 L530.9,436.0 L531.3,433.4 L531.8,430.8 L532.2,428.1 L532.6,425.5 L533.1,422.9 L533.5,420.3 L534.0,417.7 L534.4,415.1 L534.9,412.4 L535.3,409.8 L535.8,407.2 L536.2,404.6 L536.7,402.0 L537.1,399.4 L537.5,396.8 L538.0,394.1 L538.4,391.5 L538.9,388.9 L539.3,386.3 L539.7,383.7 L540.2,381.0 L540.6,378.4 L541.0,375.8 L541.5,373.2 L541.9,370.6 L542.4,367.9 L542.8,365.3 L543.3,362.7 L543.7,360.1 L544.2,357.5 L544.7,354.9 L545.2,352.2 L545.7,349.6 L546.3,347.0 L546.8,344.4 L547.3,341.8 L547.7,339.2 L548.1,336.6 L548.5,333.9 L548.9,331.3 L549.3,328.7 L549.6,326.0 L549.7,323.4 L549.9,320.7 L550.1,318.0 L550.3,315.4 L550.5,312.7 L550.8,310.1 L551.1,307.4 L551.4,304.8 L551.7,302.1 L552.0,299.5 L552.3,296.9 L552.7,294.2 L553.0,291.6 L553.3,289.0 L553.6,286.3 L554.0,283.7 L554.3,281.1 L554.6,278.4 L555.0,275.8 L555.3,273.2 L555.6,270.5 L556.0,267.9 L556.3,265.3 L556.7,262.6 L557.0,260.0 L557.3,257.4 L557.7,254.7 L558.0,252.1 L558.3,249.5 L558.7,246.9 L559.0,244.2 L559.3,241.6 L559.6,238.9 L560.0,236.3 L560.3,233.6 L560.7,231.0 L561.1,228.4 L561.4,225.7 L561.8,223.1 L562.3,220.4 L562.8,217.8 L563.3,215.1 L563.9,212.5 L564.6,209.8 L565.4,207.2 L566.3,204.6 L567.3,202.0 L568.3,199.5 L569.5,197.0 L570.8,194.6 L572.2,192.2 L573.6,189.9 L575.0,187.6 L576.5,185.4 L577.9,183.1 L579.5,180.9 L581.0,178.7 L582.5,176.5 L584.1,174.3 L585.6,172.1 L587.1,169.9 L588.7,167.7 L590.3,165.6 L592.0,163.5 L593.8,161.4 L595.7,159.5 L597.7,157.7 L599.9,156.0 L602.2,154.5 L604.5,153.2 L606.9,151.9 L609.1,150.5 L611.4,149.1 L613.7,147.7 L616.0,146.4 L618.3,145.0 L620.6,143.8 L623.0,142.5 L625.3,141.2 L627.7,140.0 L630.1,138.8 L632.5,137.7 L634.9,136.5 L637.3,135.4 L639.8,134.3 L642.2,133.3 L644.7,132.2 L647.1,131.2 L649.6,130.2 L652.1,129.2 L654.6,128.2 L657.0,127.3 L659.5,126.4 L662.0,125.4 L664.6,124.6 L667.1,123.7 L669.6,122.8 L672.1,122.0 L674.7,121.2 L677.2,120.4 L679.7,119.6 L682.3,118.8 L684.8,118.0 L687.4,117.3 L689.9,116.5 L692.5,115.8 L695.1,115.1 L697.6,114.4 L700.2,113.7 L702.8,113.1 L705.4,112.4 L707.9,111.8 L710.5,111.1 L713.1,110.5 L715.7,109.9 L718.3,109.3 L720.9,108.7 L723.5,108.1 L726.1,107.5 L728.7,106.9 L731.3,106.4 L733.9,105.8 L736.5,105.3 L739.1,104.7 L741.7,104.2 L744.3,103.7 L746.9,103.2 L749.5,102.7 L752.1,102.2 L754.7,101.7 L757.3,101.2 L759.9,100.7 L762.6,100.2 L765.2,99.8 L767.8,99.3 L770.4,98.8 L773.0,98.4 L775.7,97.9 L778.3,97.5 L780.9,97.1 L783.5,96.6 L786.1,96.2 L788.8,95.8 L791.4,95.4 L794.0,95.0 L796.6,94.6 L799.3,94.2 L801.9,93.8 L804.5,93.4 L807.2,93.0 L809.8,92.6 L812.4,92.2 L815.0,91.9 L817.7,91.5 L820.3,91.1 L822.9,90.8 L825.6,90.4 L828.2,90.0 L830.8,89.7 L833.5,89.3 L836.1,89.0 L838.7,88.7 L841.4,88.3 L844.0,88.0 L846.6,87.6 L849.3,87.3 L851.9,87.0 L854.6,86.7 L857.2,86.3 L859.8,86.0 L862.5,85.7 L865.1,85.4 L867.7,85.1 L870.4,84.8 L873.0,84.5 L875.7,84.2 L878.3,83.9 L880.9,83.6 L883.6,83.3 L886.2,83.0 L888.9,82.7 L891.5,82.4 L894.2,82.1 L896.8,81.8 L899.4,81.5 L902.1,81.3 L904.7,81.0 L907.4,80.7 L910.0,80.4 L912.6,80.2 L915.3,79.9 L917.9,79.6 L920.6,79.4 L923.2,79.1 L925.9,78.9 L928.5,78.6 L931.2,78.3 L933.8,78.3 L936.5,78.3 L939.1,78.3 L941.8,78.3 L944.4,78.3 L947.1,78.3 L949.7,78.3 L952.4,78.3 L955.0,78.3 L957.7,78.3 L960.4,78.3 L963.0,78.3 L965.7,78.3" fill="none" stroke="#ff0000" stroke-width="5.3" stroke-linejoin="round"/>
<path d="M135.5,570.2 L138.2,570.2 L140.8,570.2 L143.5,570.2 L146.2,570.2 L148.8,570.2 L151.5,570.2 L154.1,570.2 L156.8,570.2 L159.4,570.2 L162.1,570.2 L164.7,570.2 L167.4,570.2 L170.0,570.2 L172.7,570.0 L175.3,569.6 L178.0,569.3 L180.6,569.1 L183.3,568.8 L185.9,568.5 L188.5,568.2 L191.2,567.9 L193.8,567.6 L196.5,567.3 L199.1,567.0 L201.8,566.7 L204.4,566.4 L207.0,566.1 L209.7,565.8 L212.3,565.5 L215.0,565.2 L217.6,564.9 L220.2,564.6 L222.9,564.3 L225.5,564.0 L228.1,563.7 L230.8,563.4 L233.4,563.0 L236.1,562.7 L238.7,562.4 L241.3,562.1 L244.0,561.7 L246.6,561.4 L249.2,561.1 L251.9,560.7 L254.5,560.4 L257.1,560.1 L259.8,559.7 L262.4,559.4 L265.0,559.0 L267.7,558.7 L270.3,558.3 L272.9,557.9 L275.6,557.6 L278.2,557.2 L280.8,556.8 L283.5,556.5 L286.1,556.1 L288.7,555.7 L291.4,555.3 L294.0,554.9 L296.6,554.6 L299.2,554.2 L301.9,553.8 L304.5,553.4 L307.1,553.0 L309.8,552.5 L312.4,552.1 L315.0,551.7 L317.6,551.3 L320.2,550.9 L322.9,550.4 L325.5,550.0 L328.1,549.6 L330.7,549.1 L333.4,548.7 L336.0,548.2 L338.6,547.7 L341.2,547.3 L343.8,546.8 L346.4,546.3 L349.0,545.8 L351.7,545.4 L354.3,544.9 L356.9,544.4 L359.5,543.8 L362.1,543.3 L364.7,542.8 L367.3,542.3 L369.9,541.7 L372.5,541.2 L375.1,540.6 L377.7,540.1 L380.3,539.5 L382.9,538.9 L385.5,538.3 L388.1,537.7 L390.7,537.1 L393.3,536.5 L395.9,535.9 L398.4,535.3 L401.0,534.6 L403.6,534.0 L406.2,533.3 L408.7,532.6 L411.3,531.9 L413.9,531.2 L416.4,530.5 L419.0,529.8 L421.6,529.0 L424.1,528.3 L426.7,527.5 L429.2,526.7 L431.7,525.9 L434.3,525.1 L436.8,524.3 L439.3,523.5 L441.9,522.6 L444.4,521.7 L446.9,520.8 L449.4,519.9 L451.9,519.0 L454.4,518.0 L456.8,517.0 L459.3,516.0 L461.8,515.0 L464.2,514.0 L466.7,512.9 L469.1,511.8 L471.5,510.7 L474.0,509.6 L476.4,508.4 L478.8,507.3 L481.1,506.1 L483.5,504.8 L485.9,503.6 L488.2,502.3 L490.5,501.0 L492.8,499.6 L495.1,498.2 L497.4,496.8 L499.7,495.4 L501.9,494.0 L504.2,492.5 L506.3,490.8 L508.4,489.1 L510.4,487.2 L512.3,485.2 L514.1,483.1 L515.8,481.0 L517.4,478.9 L518.9,476.6 L520.3,474.3 L521.6,471.9 L522.9,469.5 L524.0,467.1 L525.1,464.7 L526.2,462.2 L527.1,459.7 L528.1,457.2 L529.1,454.7 L530.0,452.2 L530.9,449.7 L531.8,447.1 L532.6,444.5 L533.4,441.9 L534.1,439.4 L534.7,436.7 L535.3,434.1 L535.9,431.5 L536.4,428.9 L536.9,426.3 L537.4,423.7 L537.9,421.0 L538.3,418.4 L538.7,415.8 L539.2,413.2 L539.6,410.5 L539.9,407.9 L540.3,405.3 L540.7,402.6 L541.1,400.0 L541.4,397.3 L541.8,394.7 L542.1,392.1 L542.5,389.4 L542.8,386.8 L543.1,384.2 L543.4,381.5 L543.8,378.9 L544.0,376.2 L544.3,373.6 L544.6,370.9 L544.9,368.3 L545.1,365.6 L545.4,363.0 L545.6,360.3 L545.9,357.7 L546.1,355.1 L546.3,352.4 L546.6,349.8 L546.8,347.1 L547.0,344.4 L547.3,341.8 L547.7,339.2 L548.1,336.6 L548.5,333.9 L548.9,331.3 L549.3,328.7 L549.8,326.1 L550.5,323.5 L551.2,320.9 L551.8,318.3 L552.5,315.7 L553.1,313.1 L553.7,310.6 L554.3,308.0 L554.9,305.4 L555.5,302.8 L556.0,300.2 L556.6,297.6 L557.1,294.9 L557.6,292.3 L558.1,289.7 L558.6,287.1 L559.0,284.5 L559.5,281.8 L559.9,279.2 L560.4,276.6 L560.8,274.0 L561.2,271.3 L561.6,268.7 L562.0,266.1 L562.4,263.5 L562.8,260.8 L563.2,258.2 L563.6,255.6 L564.0,252.9 L564.4,250.3 L564.7,247.6 L565.1,245.0 L565.4,242.4 L565.8,239.7 L566.1,237.1 L566.5,234.5 L566.9,231.9 L567.3,229.3 L567.7,226.7 L568.1,224.1 L568.5,221.5 L568.9,218.9 L569.4,216.3 L569.8,213.7 L570.3,211.2 L570.8,208.7 L571.4,206.1 L572.0,203.6 L572.8,201.2 L573.6,198.8 L574.6,196.4 L575.7,194.1 L576.8,191.7 L578.0,189.3 L579.2,187.0 L580.5,184.7 L581.8,182.4 L583.2,180.2 L584.7,178.0 L586.2,175.8 L587.7,173.6 L589.2,171.4 L590.7,169.2 L592.3,167.1 L593.9,165.1 L595.6,163.2 L597.4,161.3 L599.4,159.6 L601.4,158.1 L603.5,156.7 L605.8,155.3 L608.1,154.0 L610.4,152.6 L612.7,151.2 L614.9,149.8 L617.2,148.5 L619.5,147.2 L621.8,145.9 L624.1,144.6 L626.4,143.3 L628.8,142.1 L631.1,140.9 L633.5,139.8 L635.9,138.6 L638.3,137.5 L640.7,136.4 L643.1,135.3 L645.5,134.2 L648.0,133.2 L650.4,132.2 L652.9,131.2 L655.3,130.2 L657.8,129.2 L660.3,128.3 L662.7,127.3 L665.2,126.4 L667.7,125.5 L670.2,124.6 L672.7,123.8 L675.2,122.9 L677.8,122.1 L680.3,121.3 L682.8,120.5 L685.3,119.7 L687.9,118.9 L690.4,118.2 L693.0,117.4 L695.5,116.7 L698.1,115.9 L700.6,115.2 L703.2,114.5 L705.7,113.8 L708.3,113.2 L710.9,112.5 L713.4,111.8 L716.0,111.2 L718.6,110.6 L721.2,109.9 L723.8,109.3 L726.3,108.7 L728.9,108.1 L731.5,107.5 L734.1,106.9 L736.7,106.4 L739.3,105.8 L741.9,105.3 L744.5,104.7 L747.1,104.2 L749.7,103.6 L752.3,103.1 L754.9,102.6 L757.5,102.1 L760.1,101.6 L762.7,101.1 L765.3,100.6 L767.9,100.1 L770.6,99.6 L773.2,99.2 L775.8,98.7 L778.4,98.2 L781.0,97.8 L783.6,97.3 L786.3,96.9 L788.9,96.5 L791.5,96.0 L794.1,95.6 L796.7,95.2 L799.4,94.8 L802.0,94.4 L804.6,93.9 L807.2,93.5 L809.9,93.2 L812.5,92.8 L815.1,92.4 L817.7,92.0 L820.4,91.6 L823.0,91.2 L825.6,90.9 L828.3,90.5 L830.9,90.1 L833.5,89.8 L836.2,89.4 L838.8,89.1 L841.4,88.7 L844.1,88.4 L846.7,88.0 L849.3,87.7 L852.0,87.4 L854.6,87.0 L857.2,86.7 L859.9,86.4 L862.5,86.0 L865.2,85.7 L867.8,85.4 L870.4,85.1 L873.1,84.8 L875.7,84.5 L878.3,84.2 L881.0,83.9 L883.6,83.6 L886.3,83.3 L888.9,83.0 L891.5,82.7 L894.2,82.4 L896.8,82.1 L899.5,81.8 L902.1,81.5 L904.7,81.3 L907.4,81.0 L910.0,80.7 L912.7,80.4 L915.3,80.1 L918.0,79.9 L920.6,79.6 L923.2,79.3 L925.9,79.0 L928.5,78.7 L931.2,78.4 L933.8,78.4 L936.5,78.4 L939.1,78.4 L941.8,78.4 L944.4,78.4 L947.1,78.4 L949.7,78.4 L952.4,78.4 L955.0,78.4 L957.7,78.4 L960.4,78.4 L963.0,78.4 L965.7,78.4" fill="none" stroke="#ff0000" stroke-width="5.3" stroke-linejoin="round"/>
<path d="M135.5,538.8 L138.1,538.8 L140.7,538.8 L143.3,538.8 L145.9,538.8 L148.5,538.8 L151.1,538.8 L153.7,538.8 L156.3,538.8 L158.9,538.8 L161.5,538.8 L164.1,538.7 L166.7,538.5 L169.3,538.2 L171.9,538.0 L174.5,537.8 L177.0,537.6 L179.6,537.4 L182.2,537.2 L184.8,536.9 L187.4,536.7 L190.0,536.5 L192.6,536.3 L195.2,536.1 L197.8,535.8 L200.4,535.6 L202.9,535.4 L205.5,535.2 L208.1,534.9 L210.7,534.7 L213.3,534.5 L215.9,534.3 L218.5,534.0 L221.1,533.8 L223.7,533.6 L226.3,533.3 L228.8,533.1 L231.4,532.9 L234.0,532.6 L236.6,532.4 L239.2,532.2 L241.8,531.9 L244.4,531.7 L247.0,531.4 L249.6,531.2 L252.2,531.0 L254.7,530.7 L257.3,530.5 L259.9,530.2 L262.5,530.0 L265.1,529.7 L267.7,529.5 L270.3,529.2 L272.9,529.0 L275.4,528.7 L278.0,528.5 L280.6,528.2 L283.2,527.9 L285.8,527.7 L288.4,527.4 L291.0,527.1 L293.6,526.9 L296.1,526.6 L298.7,526.3 L301.3,526.1 L303.9,525.8 L306.5,525.5 L309.1,525.2 L311.7,524.9 L314.2,524.7 L316.8,524.4 L319.4,524.1 L322.0,523.8 L324.6,523.5 L327.2,523.2 L329.7,522.9 L332.3,522.6 L334.9,522.3 L337.5,522.0 L340.1,521.7 L342.6,521.4 L345.2,521.0 L347.8,520.7 L350.4,520.4 L353.0,520.1 L355.5,519.7 L358.1,519.4 L360.7,519.1 L363.3,518.7 L365.8,518.4 L368.4,518.0 L371.0,517.7 L373.6,517.3 L376.1,516.9 L378.7,516.6 L381.3,516.2 L383.9,515.8 L386.4,515.4 L389.0,515.0 L391.6,514.6 L394.1,514.2 L396.7,513.8 L399.3,513.4 L401.8,512.9 L404.4,512.5 L406.9,512.1 L409.5,511.6 L412.1,511.2 L414.6,510.7 L417.2,510.2 L419.7,509.7 L422.3,509.2 L424.8,508.7 L427.4,508.2 L429.9,507.7 L432.4,507.1 L435.0,506.6 L437.5,506.0 L440.0,505.4 L442.6,504.8 L445.1,504.2 L447.6,503.6 L450.1,503.0 L452.6,502.3 L455.1,501.6 L457.6,500.9 L460.1,500.2 L462.6,499.4 L465.0,498.7 L467.5,497.9 L470.0,497.0 L472.4,496.2 L474.8,495.3 L477.2,494.4 L479.6,493.4 L482.0,492.4 L484.4,491.4 L486.7,490.3 L489.1,489.2 L491.4,488.1 L493.6,486.9 L495.9,485.6 L498.1,484.3 L500.3,483.0 L502.4,481.5 L504.5,480.1 L506.6,478.5 L508.6,477.0 L510.6,475.3 L512.5,473.6 L514.4,471.8 L516.2,470.1 L517.9,468.2 L519.4,466.3 L520.7,464.2 L522.0,461.9 L523.2,459.6 L524.3,457.3 L525.5,454.9 L526.6,452.6 L527.6,450.3 L528.4,447.9 L529.2,445.5 L529.8,443.0 L530.4,440.5 L530.9,438.0 L531.3,435.5 L531.8,433.0 L532.2,430.4 L532.5,427.9 L532.9,425.3 L533.3,422.7 L533.7,420.2 L534.2,417.6 L534.6,415.0 L535.0,412.5 L535.5,409.9 L535.9,407.4 L536.3,404.8 L536.7,402.2 L537.1,399.7 L537.5,397.1 L538.0,394.5 L538.4,392.0 L538.8,389.4 L539.2,386.8 L539.6,384.3 L540.0,381.7 L540.5,379.1 L540.9,376.6 L541.3,374.0 L541.7,371.4 L542.1,368.9 L542.5,366.3 L543.0,363.8 L543.4,361.2 L543.9,358.6 L544.3,356.1 L544.8,353.5 L545.3,350.9 L545.8,348.4 L546.3,345.8 L546.8,343.3 L547.2,340.7 L547.5,338.1 L547.9,335.5 L548.2,333.0 L548.6,330.4 L549.0,327.8 L549.1,325.2 L549.2,322.6 L549.4,320.0 L549.6,317.4 L549.8,314.8 L550.0,312.2 L550.2,309.6 L550.5,307.0 L550.7,304.4 L551.0,301.8 L551.3,299.2 L551.6,296.7 L551.9,294.1 L552.2,291.5 L552.5,288.9 L552.8,286.3 L553.1,283.8 L553.5,281.2 L553.8,278.6 L554.1,276.0 L554.4,273.4 L554.7,270.9 L555.1,268.3 L555.4,265.7 L555.7,263.1 L556.0,260.6 L556.4,258.0 L556.7,255.4 L557.0,252.8 L557.3,250.3 L557.6,247.7 L558.0,245.1 L558.3,242.5 L558.6,239.9 L558.9,237.4 L559.2,234.8 L559.5,232.2 L559.9,229.6 L560.2,227.0 L560.5,224.5 L560.8,221.8 L561.2,219.2 L561.6,216.6 L562.1,214.0 L562.7,211.3 L563.5,208.7 L564.7,206.0 L565.9,203.6 L567.2,201.3 L568.5,198.9 L570.0,196.7 L571.4,194.5 L572.9,192.3 L574.4,190.2 L575.9,188.0 L577.4,185.8 L579.0,183.7 L580.6,181.6 L582.2,179.6 L583.9,177.6 L585.6,175.6 L587.4,173.7 L589.1,171.7 L591.0,169.8 L592.9,167.9 L594.9,166.2 L597.2,164.8 L599.5,163.4 L601.8,162.2 L604.1,160.9 L606.4,159.7 L608.8,158.6 L611.1,157.5 L613.5,156.4 L615.9,155.4 L618.4,154.4 L620.8,153.5 L623.3,152.6 L625.7,151.7 L628.2,150.9 L630.7,150.1 L633.2,149.3 L635.7,148.5 L638.2,147.8 L640.7,147.1 L643.2,146.4 L645.7,145.7 L648.2,145.1 L650.8,144.4 L653.3,143.8 L655.8,143.2 L658.4,142.6 L660.9,142.1 L663.5,141.5 L666.0,141.0 L668.6,140.4 L671.1,139.9 L673.7,139.4 L676.2,138.9 L678.8,138.4 L681.3,138.0 L683.9,137.5 L686.5,137.1 L689.0,136.6 L691.6,136.2 L694.2,135.7 L696.7,135.3 L699.3,134.9 L701.9,134.5 L704.4,134.1 L707.0,133.7 L709.6,133.3 L712.1,132.9 L714.7,132.6 L717.3,132.2 L719.9,131.8 L722.4,131.4 L725.0,131.1 L727.6,130.7 L730.2,130.4 L732.8,130.0 L735.3,129.7 L737.9,129.4 L740.5,129.0 L743.1,128.7 L745.7,128.4 L748.2,128.0 L750.8,127.7 L753.4,127.4 L756.0,127.1 L758.6,126.8 L761.1,126.5 L763.7,126.2 L766.3,125.9 L768.9,125.5 L771.5,125.2 L774.1,125.0 L776.6,124.7 L779.2,124.4 L781.8,124.1 L784.4,123.8 L787.0,123.5 L789.6,123.2 L792.1,122.9 L794.7,122.6 L797.3,122.4 L799.9,122.1 L802.5,121.8 L805.1,121.5 L807.7,121.3 L810.2,121.0 L812.8,120.7 L815.4,120.4 L818.0,120.2 L820.6,119.9 L823.2,119.6 L825.8,119.4 L828.3,119.1 L830.9,118.8 L833.5,118.6 L836.1,118.3 L838.7,118.1 L841.3,117.8 L843.9,117.5 L846.5,117.3 L849.0,117.0 L851.6,116.8 L854.2,116.5 L856.8,116.3 L859.4,116.0 L862.0,115.8 L864.6,115.5 L867.2,115.3 L869.7,115.0 L872.3,114.8 L874.9,114.5 L877.5,114.3 L880.1,114.0 L882.7,113.8 L885.3,113.5 L887.9,113.3 L890.5,113.1 L893.0,112.8 L895.6,112.6 L898.2,112.3 L900.8,112.1 L903.4,111.9 L906.0,111.6 L908.6,111.4 L911.2,111.2 L913.8,110.9 L916.4,110.7 L918.9,110.5 L921.5,110.2 L924.1,110.0 L926.7,109.8 L929.3,109.5 L931.9,109.3 L934.5,109.3 L937.1,109.3 L939.7,109.3 L942.3,109.3 L944.9,109.3 L947.5,109.3 L950.1,109.3 L952.7,109.3 L955.3,109.3 L957.9,109.3 L960.5,109.3 L963.1,109.3 L965.7,109.3 L965.7,109.4 L963.1,109.4 L960.5,109.4 L957.9,109.4 L955.3,109.4 L952.7,109.4 L950.1,109.4 L947.5,109.4 L944.9,109.4 L942.3,109.4 L939.7,109.4 L937.1,109.4 L934.5,109.4 L931.9,109.4 L929.3,109.6 L926.7,109.9 L924.1,110.1 L921.5,110.4 L919.0,110.6 L916.4,110.9 L913.8,111.1 L911.2,111.4 L908.6,111.6 L906.0,111.8 L903.4,112.1 L900.8,112.3 L898.2,112.6 L895.7,112.8 L893.1,113.1 L890.5,113.3 L887.9,113.5 L885.3,113.8 L882.7,114.0 L880.1,114.3 L877.5,114.5 L875.0,114.8 L872.4,115.0 L869.8,115.3 L867.2,115.5 L864.6,115.8 L862.0,116.0 L859.4,116.3 L856.8,116.6 L854.2,116.8 L851.7,117.1 L849.1,117.3 L846.5,117.6 L843.9,117.9 L841.3,118.1 L838.7,118.4 L836.1,118.7 L833.6,118.9 L831.0,119.2 L828.4,119.5 L825.8,119.7 L823.2,120.0 L820.6,120.3 L818.0,120.6 L815.5,120.8 L812.9,121.1 L810.3,121.4 L807.7,121.7 L805.1,122.0 L802.5,122.3 L799.9,122.6 L797.4,122.8 L794.8,123.1 L792.2,123.4 L789.6,123.7 L787.0,124.0 L784.5,124.3 L781.9,124.6 L779.3,124.9 L776.7,125.3 L774.1,125.6 L771.5,125.9 L769.0,126.2 L766.4,126.5 L763.8,126.8 L761.2,127.2 L758.6,127.5 L756.1,127.8 L753.5,128.2 L750.9,128.5 L748.3,128.8 L745.8,129.2 L743.2,129.5 L740.6,129.9 L738.0,130.2 L735.5,130.6 L732.9,131.0 L730.3,131.3 L727.7,131.7 L725.2,132.1 L722.6,132.5 L720.0,132.8 L717.5,133.2 L714.9,133.6 L712.3,134.0 L709.7,134.4 L707.2,134.9 L704.6,135.3 L702.1,135.7 L699.5,136.1 L696.9,136.6 L694.4,137.0 L691.8,137.5 L689.3,137.9 L686.7,138.4 L684.1,138.9 L681.6,139.4 L679.0,139.9 L676.5,140.4 L674.0,140.9 L671.4,141.4 L668.9,142.0 L666.3,142.5 L663.8,143.1 L661.3,143.6 L658.7,144.2 L656.2,144.8 L653.7,145.4 L651.2,146.1 L648.7,146.7 L646.2,147.4 L643.7,148.1 L641.2,148.8 L638.7,149.5 L636.2,150.3 L633.7,151.0 L631.3,151.8 L628.8,152.6 L626.4,153.5 L623.9,154.4 L621.5,155.3 L619.1,156.2 L616.7,157.2 L614.3,158.2 L612.0,159.3 L609.6,160.4 L607.3,161.5 L605.0,162.7 L602.7,163.9 L600.5,165.2 L598.2,166.5 L596.1,167.8 L594.2,169.4 L592.4,171.2 L590.6,173.1 L588.9,175.0 L587.2,177.0 L585.6,179.0 L584.0,181.0 L582.5,183.1 L581.1,185.2 L579.7,187.4 L578.4,189.6 L577.2,191.9 L576.0,194.2 L574.8,196.5 L573.6,198.8 L572.5,201.1 L571.5,203.4 L570.5,205.7 L569.6,208.1 L568.9,210.3 L568.4,212.6 L568.1,215.0 L567.7,217.5 L567.4,220.1 L567.1,222.6 L566.8,225.2 L566.5,227.8 L566.1,230.4 L565.8,233.0 L565.4,235.6 L565.1,238.1 L564.7,240.7 L564.4,243.3 L564.1,245.9 L563.7,248.5 L563.4,251.0 L563.0,253.6 L562.6,256.2 L562.3,258.8 L561.9,261.4 L561.5,263.9 L561.1,266.5 L560.7,269.1 L560.3,271.7 L559.9,274.2 L559.5,276.8 L559.1,279.4 L558.6,281.9 L558.2,284.5 L557.7,287.1 L557.3,289.6 L556.8,292.2 L556.3,294.8 L555.9,297.3 L555.3,299.9 L554.8,302.4 L554.3,305.0 L553.7,307.5 L553.2,310.1 L552.6,312.6 L552.0,315.1 L551.4,317.7 L550.8,320.2 L550.2,322.7 L549.6,325.3 L549.0,327.8 L548.6,330.4 L548.2,333.0 L547.9,335.5 L547.5,338.1 L547.2,340.7 L546.8,343.3 L546.6,345.9 L546.5,348.5 L546.3,351.1 L546.1,353.7 L545.8,356.3 L545.6,358.9 L545.4,361.4 L545.2,364.0 L544.9,366.6 L544.7,369.2 L544.5,371.8 L544.2,374.4 L543.9,377.0 L543.6,379.6 L543.4,382.2 L543.1,384.8 L542.7,387.3 L542.4,389.9 L542.1,392.5 L541.8,395.1 L541.4,397.7 L541.1,400.3 L540.8,402.8 L540.4,405.4 L540.0,408.0 L539.7,410.6 L539.3,413.1 L538.9,415.7 L538.5,418.3 L538.1,420.9 L537.7,423.4 L537.2,426.0 L536.8,428.6 L536.3,431.2 L535.7,433.7 L535.2,436.3 L534.5,438.8 L533.8,441.4 L533.1,443.9 L532.2,446.5 L531.3,449.0 L530.3,451.4 L529.1,453.8 L527.9,456.2 L526.6,458.4 L525.4,460.8 L524.2,463.1 L522.9,465.4 L521.5,467.7 L519.9,469.8 L518.0,471.8 L516.1,473.7 L514.2,475.5 L512.2,477.2 L510.2,478.9 L508.1,480.5 L506.0,482.1 L503.8,483.6 L501.6,485.0 L499.4,486.4 L497.1,487.7 L494.8,489.0 L492.5,490.2 L490.1,491.4 L487.7,492.5 L485.4,493.6 L482.9,494.6 L480.5,495.6 L478.1,496.6 L475.6,497.5 L473.2,498.3 L470.7,499.2 L468.2,500.0 L465.7,500.8 L463.2,501.6 L460.7,502.3 L458.2,503.0 L455.7,503.7 L453.1,504.3 L450.6,505.0 L448.1,505.6 L445.6,506.2 L443.0,506.8 L440.5,507.4 L437.9,507.9 L435.4,508.5 L432.8,509.0 L430.3,509.5 L427.7,510.0 L425.2,510.5 L422.6,511.0 L420.0,511.4 L417.5,511.9 L414.9,512.3 L412.3,512.8 L409.8,513.2 L407.2,513.6 L404.6,514.0 L402.1,514.4 L399.5,514.8 L396.9,515.2 L394.3,515.6 L391.8,516.0 L389.2,516.3 L386.6,516.7 L384.0,517.1 L381.5,517.4 L378.9,517.8 L376.3,518.1 L373.7,518.4 L371.1,518.8 L368.6,519.1 L366.0,519.4 L363.4,519.7 L360.8,520.1 L358.2,520.4 L355.7,520.7 L353.1,521.0 L350.5,521.3 L347.9,521.6 L345.3,521.9 L342.7,522.2 L340.2,522.5 L337.6,522.8 L335.0,523.1 L332.4,523.4 L329.8,523.6 L327.2,523.9 L324.6,524.2 L322.1,524.5 L319.5,524.8 L316.9,525.0 L314.3,525.3 L311.7,525.6 L309.1,525.8 L306.5,526.1 L304.0,526.4 L301.4,526.6 L298.8,526.9 L296.2,527.1 L293.6,527.4 L291.0,527.7 L288.4,527.9 L285.8,528.2 L283.3,528.4 L280.7,528.7 L278.1,528.9 L275.5,529.2 L272.9,529.4 L270.3,529.7 L267.7,529.9 L265.1,530.1 L262.5,530.4 L260.0,530.6 L257.4,530.9 L254.8,531.1 L252.2,531.3 L249.6,531.6 L247.0,531.8 L244.4,532.1 L241.8,532.3 L239.2,532.5 L236.7,532.8 L234.1,533.0 L231.5,533.2 L228.9,533.5 L226.3,533.7 L223.7,533.9 L221.1,534.1 L218.5,534.4 L215.9,534.6 L213.3,534.8 L210.7,535.0 L208.2,535.3 L205.6,535.5 L203.0,535.7 L200.4,535.9 L197.8,536.2 L195.2,536.4 L192.6,536.6 L190.0,536.8 L187.4,537.0 L184.8,537.3 L182.2,537.5 L179.7,537.7 L177.1,537.9 L174.5,538.1 L171.9,538.3 L169.3,538.6 L166.7,538.8 L164.1,539.0 L161.5,539.1 L158.9,539.1 L156.3,539.1 L153.7,539.1 L151.1,539.1 L148.5,539.1 L145.9,539.1 L143.3,539.1 L140.7,539.1 L138.1,539.1 L135.5,539.1Z" fill="#0000ff" stroke="none"/>
<path d="M135.5,538.8 L138.1,538.8 L140.7,538.8 L143.3,538.8 L145.9,538.8 L148.5,538.8 L151.1,538.8 L153.7,538.8 L156.3,538.8 L158.9,538.8 L161.5,538.8 L164.1,538.7 L166.7,538.5 L169.3,538.2 L171.9,538.0 L174.5,537.8 L177.0,537.6 L179.6,537.4 L182.2,537.2 L184.8,536.9 L187.4,536.7 L190.0,536.5 L192.6,536.3 L195.2,536.1 L197.8,535.8 L200.4,535.6 L202.9,535.4 L205.5,535.2 L208.1,534.9 L210.7,534.7 L213.3,534.5 L215.9,534.3 L218.5,534.0 L221.1,533.8 L223.7,533.6 L226.3,533.3 L228.8,533.1 L231.4,532.9 L234.0,532.6 L236.6,532.4 L239.2,532.2 L241.8,531.9 L244.4,531.7 L247.0,531.4 L249.6,531.2 L252.2,531.0 L254.7,530.7 L257.3,530.5 L259.9,530.2 L262.5,530.0 L265.1,529.7 L267.7,529.5 L270.3,529.2 L272.9,529.0 L275.4,528.7 L278.0,528.5 L280.6,528.2 L283.2,527.9 L285.8,527.7 L288.4,527.4 L291.0,527.1 L293.6,526.9 L296.1,526.6 L298.7,526.3 L301.3,526.1 L303.9,525.8 L306.5,525.5 L309.1,525.2 L311.7,524.9 L314.2,524.7 L316.8,524.4 L319.4,524.1 L322.0,523.8 L324.6,523.5 L327.2,523.2 L329.7,522.9 L332.3,522.6 L334.9,522.3 L337.5,522.0 L340.1,521.7 L342.6,521.4 L345.2,521.0 L347.8,520.7 L350.4,520.4 L353.0,520.1 L355.5,519.7 L358.1,519.4 L360.7,519.1 L363.3,518.7 L365.8,518.4 L368.4,518.0 L371.0,517.7 L373.6,517.3 L376.1,516.9 L378.7,516.6 L381.3,516.2 L383.9,515.8 L386.4,515.4 L389.0,515.0 L391.6,514.6 L394.1,514.2 L396.7,513.8 L399.3,513.4 L401.8,512.9 L404.4,512.5 L406.9,512.1 L409.5,511.6 L412.1,511.2 L414.6,510.7 L417.2,510.2 L419.7,509.7 L422.3,509.2 L424.8,508.7 L427.4,508.2 L429.9,507.7 L432.4,507.1 L435.0,506.6 L437.5,506.0 L440.0,505.4 L442.6,504.8 L445.1,504.2 L447.6,503.6 L450.1,503.0 L452.6,502.3 L455.1,501.6 L457.6,500.9 L460.1,500.2 L462.6,499.4 L465.0,498.7 L467.5,497.9 L470.0,497.0 L472.4,496.2 L474.8,495.3 L477.2,494.4 L479.6,493.4 L482.0,492.4 L484.4,491.4 L486.7,490.3 L489.1,489.2 L491.4,488.1 L493.6,486.9 L495.9,485.6 L498.1,484.3 L500.3,483.0 L502.4,481.5 L504.5,480.1 L506.6,478.5 L508.6,477.0 L510.6,475.3 L512.5,473.6 L514.4,471.8 L516.2,470.1 L517.9,468.2 L519.4,466.3 L520.7,464.2 L522.0,461.9 L523.2,459.6 L524.3,457.3 L525.5,454.9 L526.6,452.6 L527.6,450.3 L528.4,447.9 L529.2,445.5 L529.8,443.0 L530.4,440.5 L530.9,438.0 L531.3,435.5 L531.8,433.0 L532.2,430.4 L532.5,427.9 L532.9,425.3 L533.3,422.7 L533.7,420.2 L534.2,417.6 L534.6,415.0 L535.0,412.5 L535.5,409.9 L535.9,407.4 L536.3,404.8 L536.7,402.2 L537.1,399.7 L537.5,397.1 L538.0,394.5 L538.4,392.0 L538.8,389.4 L539.2,386.8 L539.6,384.3 L540.0,381.7 L540.5,379.1 L540.9,376.6 L541.3,374.0 L541.7,371.4 L542.1,368.9 L542.5,366.3 L543.0,363.8 L543.4,361.2 L543.9,358.6 L544.3,356.1 L544.8,353.5 L545.3,350.9 L545.8,348.4 L546.3,345.8 L546.8,343.3 L547.2,340.7 L547.5,338.1 L547.9,335.5 L548.2,333.0 L548.6,330.4 L549.0,327.8 L549.1,325.2 L549.2,322.6 L549.4,320.0 L549.6,317.4 L549.8,314.8 L550.0,312.2 L550.2,309.6 L550.5,307.0 L550.7,304.4 L551.0,301.8 L551.3,299.2 L551.6,296.7 L551.9,294.1 L552.2,291.5 L552.5,288.9 L552.8,286.3 L553.1,283.8 L553.5,281.2 L553.8,278.6 L554.1,276.0 L554.4,273.4 L554.7,270.9 L555.1,268.3 L555.4,265.7 L555.7,263.1 L556.0,260.6 L556.4,258.0 L556.7,255.4 L557.0,252.8 L557.3,250.3 L557.6,247.7 L558.0,245.1 L558.3,242.5 L558.6,239.9 L558.9,237.4 L559.2,234.8 L559.5,232.2 L559.9,229.6 L560.2,227.0 L560.5,224.5 L560.8,221.8 L561.2,219.2 L561.6,216.6 L562.1,214.0 L562.7,211.3 L563.5,208.7 L564.7,206.0 L565.9,203.6 L567.2,201.3 L568.5,198.9 L570.0,196.7 L571.4,194.5 L572.9,192.3 L574.4,190.2 L575.9,188.0 L577.4,185.8 L579.0,183.7 L580.6,181.6 L582.2,179.6 L583.9,177.6 L585.6,175.6 L587.4,173.7 L589.1,171.7 L591.0,169.8 L592.9,167.9 L594.9,166.2 L597.2,164.8 L599.5,163.4 L601.8,162.2 L604.1,160.9 L606.4,159.7 L608.8,158.6 L611.1,157.5 L613.5,156.4 L615.9,155.4 L618.4,154.4 L620.8,153.5 L623.3,152.6 L625.7,151.7 L628.2,150.9 L630.7,150.1 L633.2,149.3 L635.7,148.5 L638.2,147.8 L640.7,147.1 L643.2,146.4 L645.7,145.7 L648.2,145.1 L650.8,144.4 L653.3,143.8 L655.8,143.2 L658.4,142.6 L660.9,142.1 L663.5,141.5 L666.0,141.0 L668.6,140.4 L671.1,139.9 L673.7,139.4 L676.2,138.9 L678.8,138.4 L681.3,138.0 L683.9,137.5 L686.5,137.1 L689.0,136.6 L691.6,136.2 L694.2,135.7 L696.7,135.3 L699.3,134.9 L701.9,134.5 L704.4,134.1 L707.0,133.7 L709.6,133.3 L712.1,132.9 L714.7,132.6 L717.3,132.2 L719.9,131.8 L722.4,131.4 L725.0,131.1 L727.6,130.7 L730.2,130.4 L732.8,130.0 L735.3,129.7 L737.9,129.4 L740.5,129.0 L743.1,128.7 L745.7,128.4 L748.2,128.0 L750.8,127.7 L753.4,127.4 L756.0,127.1 L758.6,126.8 L761.1,126.5 L763.7,126.2 L766.3,125.9 L768.9,125.5 L771.5,125.2 L774.1,125.0 L776.6,124.7 L779.2,124.4 L781.8,124.1 L784.4,123.8 L787.0,123.5 L789.6,123.2 L792.1,122.9 L794.7,122.6 L797.3,122.4 L799.9,122.1 L802.5,121.8 L805.1,121.5 L807.7,121.3 L810.2,121.0 L812.8,120.7 L815.4,120.4 L818.0,120.2 L820.6,119.9 L823.2,119.6 L825.8,119.4 L828.3,119.1 L830.9,118.8 L833.5,118.6 L836.1,118.3 L838.7,118.1 L841.3,117.8 L843.9,117.5 L846.5,117.3 L849.0,117.0 L851.6,116.8 L854.2,116.5 L856.8,116.3 L859.4,116.0 L862.0,115.8 L864.6,115.5 L867.2,115.3 L869.7,115.0 L872.3,114.8 L874.9,114.5 L877.5,114.3 L880.1,114.0 L882.7,113.8 L885.3,113.5 L887.9,113.3 L890.5,113.1 L893.0,112.8 L895.6,112.6 L898.2,112.3 L900.8,112.1 L903.4,111.9 L906.0,111.6 L908.6,111.4 L911.2,111.2 L913.8,110.9 L916.4,110.7 L918.9,110.5 L921.5,110.2 L924.1,110.0 L926.7,109.8 L929.3,109.5 L931.9,109.3 L934.5,109.3 L937.1,109.3 L939.7,109.3 L942.3,109.3 L944.9,109.3 L947.5,109.3 L950.1,109.3 L952.7,109.3 L955.3,109.3 L957.9,109.3 L960.5,109.3 L963.1,109.3 L965.7,109.3" fill="none" stroke="#0000ff" stroke-width="5.3" stroke-linejoin="round"/>
<path d="M135.5,539.1 L138.1,539.1 L140.7,539.1 L143.3,539.1 L145.9,539.1 L148.5,539.1 L151.1,539.1 L153.7,539.1 L156.3,539.1 L158.9,539.1 L161.5,539.1 L164.1,539.0 L166.7,538.8 L169.3,538.6 L171.9,538.3 L174.5,538.1 L177.1,537.9 L179.7,537.7 L182.2,537.5 L184.8,537.3 L187.4,537.0 L190.0,536.8 L192.6,536.6 L195.2,536.4 L197.8,536.2 L200.4,535.9 L203.0,535.7 L205.6,535.5 L208.2,535.3 L210.7,535.0 L213.3,534.8 L215.9,534.6 L218.5,534.4 L221.1,534.1 L223.7,533.9 L226.3,533.7 L228.9,533.5 L231.5,533.2 L234.1,533.0 L236.7,532.8 L239.2,532.5 L241.8,532.3 L244.4,532.1 L247.0,531.8 L249.6,531.6 L252.2,531.3 L254.8,531.1 L257.4,530.9 L260.0,530.6 L262.5,530.4 L265.1,530.1 L267.7,529.9 L270.3,529.7 L272.9,529.4 L275.5,529.2 L278.1,528.9 L280.7,528.7 L283.3,528.4 L285.8,528.2 L288.4,527.9 L291.0,527.7 L293.6,527.4 L296.2,527.1 L298.8,526.9 L301.4,526.6 L304.0,526.4 L306.5,526.1 L309.1,525.8 L311.7,525.6 L314.3,525.3 L316.9,525.0 L319.5,524.8 L322.1,524.5 L324.6,524.2 L327.2,523.9 L329.8,523.6 L332.4,523.4 L335.0,523.1 L337.6,522.8 L340.2,522.5 L342.7,522.2 L345.3,521.9 L347.9,521.6 L350.5,521.3 L353.1,521.0 L355.7,520.7 L358.2,520.4 L360.8,520.1 L363.4,519.7 L366.0,519.4 L368.6,519.1 L371.1,518.8 L373.7,518.4 L376.3,518.1 L378.9,517.8 L381.5,517.4 L384.0,517.1 L386.6,516.7 L389.2,516.3 L391.8,516.0 L394.3,515.6 L396.9,515.2 L399.5,514.8 L402.1,514.4 L404.6,514.0 L407.2,513.6 L409.8,513.2 L412.3,512.8 L414.9,512.3 L417.5,511.9 L420.0,511.4 L422.6,511.0 L425.2,510.5 L427.7,510.0 L430.3,509.5 L432.8,509.0 L435.4,508.5 L437.9,507.9 L440.5,507.4 L443.0,506.8 L445.6,506.2 L448.1,505.6 L450.6,505.0 L453.1,504.3 L455.7,503.7 L458.2,503.0 L460.7,502.3 L463.2,501.6 L465.7,500.8 L468.2,500.0 L470.7,499.2 L473.2,498.3 L475.6,497.5 L478.1,496.6 L480.5,495.6 L482.9,494.6 L485.4,493.6 L487.7,492.5 L490.1,491.4 L492.5,490.2 L494.8,489.0 L497.1,487.7 L499.4,486.4 L501.6,485.0 L503.8,483.6 L506.0,482.1 L508.1,480.5 L510.2,478.9 L512.2,477.2 L514.2,475.5 L516.1,473.7 L518.0,471.8 L519.9,469.8 L521.5,467.7 L522.9,465.4 L524.2,463.1 L525.4,460.8 L526.6,458.4 L527.9,456.2 L529.1,453.8 L530.3,451.4 L531.3,449.0 L532.2,446.5 L533.1,443.9 L533.8,441.4 L534.5,438.8 L535.2,436.3 L535.7,433.7 L536.3,431.2 L536.8,428.6 L537.2,426.0 L537.7,423.4 L538.1,420.9 L538.5,418.3 L538.9,415.7 L539.3,413.1 L539.7,410.6 L540.0,408.0 L540.4,405.4 L540.8,402.8 L541.1,400.3 L541.4,397.7 L541.8,395.1 L542.1,392.5 L542.4,389.9 L542.7,387.3 L543.1,384.8 L543.4,382.2 L543.6,379.6 L543.9,377.0 L544.2,374.4 L544.5,371.8 L544.7,369.2 L544.9,366.6 L545.2,364.0 L545.4,361.4 L545.6,358.9 L545.8,356.3 L546.1,353.7 L546.3,351.1 L546.5,348.5 L546.6,345.9 L546.8,343.3 L547.2,340.7 L547.5,338.1 L547.9,335.5 L548.2,333.0 L548.6,330.4 L549.0,327.8 L549.6,325.3 L550.2,322.7 L550.8,320.2 L551.4,317.7 L552.0,315.1 L552.6,312.6 L553.2,310.1 L553.7,307.5 L554.3,305.0 L554.8,302.4 L555.3,299.9 L555.9,297.3 L556.3,294.8 L556.8,292.2 L557.3,289.6 L557.7,287.1 L558.2,284.5 L558.6,281.9 L559.1,279.4 L559.5,276.8 L559.9,274.2 L560.3,271.7 L560.7,269.1 L561.1,266.5 L561.5,263.9 L561.9,261.4 L562.3,258.8 L562.6,256.2 L563.0,253.6 L563.4,251.0 L563.7,248.5 L564.1,245.9 L564.4,243.3 L564.7,240.7 L565.1,238.1 L565.4,235.6 L565.8,233.0 L566.1,230.4 L566.5,227.8 L566.8,225.2 L567.1,222.6 L567.4,220.1 L567.7,217.5 L568.1,215.0 L568.4,212.6 L568.9,210.3 L569.6,208.1 L570.5,205.7 L571.5,203.4 L572.5,201.1 L573.6,198.8 L574.8,196.5 L576.0,194.2 L577.2,191.9 L578.4,189.6 L579.7,187.4 L581.1,185.2 L582.5,183.1 L584.0,181.0 L585.6,179.0 L587.2,177.0 L588.9,175.0 L590.6,173.1 L592.4,171.2 L594.2,169.4 L596.1,167.8 L598.2,166.5 L600.5,165.2 L602.7,163.9 L605.0,162.7 L607.3,161.5 L609.6,160.4 L612.0,159.3 L614.3,158.2 L616.7,157.2 L619.1,156.2 L621.5,155.3 L623.9,154.4 L626.4,153.5 L628.8,152.6 L631.3,151.8 L633.7,151.0 L636.2,150.3 L638.7,149.5 L641.2,148.8 L643.7,148.1 L646.2,147.4 L648.7,146.7 L651.2,146.1 L653.7,145.4 L656.2,144.8 L658.7,144.2 L661.3,143.6 L663.8,143.1 L666.3,142.5 L668.9,142.0 L671.4,141.4 L674.0,140.9 L676.5,140.4 L679.0,139.9 L681.6,139.4 L684.1,138.9 L686.7,138.4 L689.3,137.9 L691.8,137.5 L694.4,137.0 L696.9,136.6 L699.5,136.1 L702.1,135.7 L704.6,135.3 L707.2,134.9 L709.7,134.4 L712.3,134.0 L714.9,133.6 L717.5,133.2 L720.0,132.8 L722.6,132.5 L725.2,132.1 L727.7,131.7 L730.3,131.3 L732.9,131.0 L735.5,130.6 L738.0,130.2 L740.6,129.9 L743.2,129.5 L745.8,129.2 L748.3,128.8 L750.9,128.5 L753.5,128.2 L756.1,127.8 L758.6,127.5 L761.2,127.2 L763.8,126.8 L766.4,126.5 L769.0,126.2 L771.5,125.9 L774.1,125.6 L776.7,125.3 L779.3,124.9 L781.9,124.6 L784.5,124.3 L787.0,124.0 L789.6,123.7 L792.2,123.4 L794.8,123.1 L797.4,122.8 L799.9,122.6 L802.5,122.3 L805.1,122.0 L807.7,121.7 L810.3,121.4 L812.9,121.1 L815.5,120.8 L818.0,120.6 L820.6,120.3 L823.2,120.0 L825.8,119.7 L828.4,119.5 L831.0,119.2 L833.6,118.9 L836.1,118.7 L838.7,118.4 L841.3,118.1 L843.9,117.9 L846.5,117.6 L849.1,117.3 L851.7,117.1 L854.2,116.8 L856.8,116.6 L859.4,116.3 L862.0,116.0 L864.6,115.8 L867.2,115.5 L869.8,115.3 L872.4,115.0 L875.0,114.8 L877.5,114.5 L880.1,114.3 L882.7,114.0 L885.3,113.8 L887.9,113.5 L890.5,113.3 L893.1,113.1 L895.7,112.8 L898.2,112.6 L900.8,112.3 L903.4,112.1 L906.0,111.8 L908.6,111.6 L911.2,111.4 L913.8,111.1 L916.4,110.9 L919.0,110.6 L921.5,110.4 L924.1,110.1 L926.7,109.9 L929.3,109.6 L931.9,109.4 L934.5,109.4 L937.1,109.4 L939.7,109.4 L942.3,109.4 L944.9,109.4 L947.5,109.4 L950.1,109.4 L952.7,109.4 L955.3,109.4 L957.9,109.4 L960.5,109.4 L963.1,109.4 L965.7,109.4" fill="none" stroke="#0000ff" stroke-width="5.3" stroke-linejoin="round"/>
<path d="M534.2,404.8 L535.1,402.5 L535.9,400.1 L536.6,397.8 L537.3,395.4 L537.9,393.0 L538.5,390.5 L539.0,388.1 L539.5,385.7 L539.9,383.2 L540.3,380.8 L540.7,378.3 L541.1,375.9 L541.5,373.4 L541.9,371.0 L542.2,368.5 L542.6,366.1 L542.9,363.6 L543.2,361.1 L543.5,358.7 L543.7,356.2 L544.0,353.7 L544.3,351.3 L544.5,348.8 L544.8,346.3 L545.0,343.8 L545.3,341.4 L545.6,338.9 L545.9,336.4 L546.2,334.0 L546.5,331.5 L546.8,329.1 L547.2,326.6 L547.6,324.2 L548.1,321.8 L548.6,319.4 L549.2,317.0 L549.9,314.6 L550.6,312.2 L551.4,309.8 L552.1,307.4 L552.7,305.0 L553.4,302.6 L553.9,300.2 L554.4,297.8 L554.8,295.4 L555.3,292.9 L555.7,290.5 L556.0,288.0 L556.4,285.6 L556.8,283.1 L557.1,280.7 L557.4,278.2 L557.8,275.7 L558.1,273.3 L558.4,270.8 L558.7,268.4 L559.0,265.9 L559.3,263.4 L559.6,261.0 L559.9,258.5 L560.3,256.0 L560.6,253.6 L560.9,251.1 L561.3,248.6 L561.6,246.2 L562.0,243.7 L562.3,241.3 L562.7,238.8 L563.0,236.4 L563.4,233.9 L563.8,231.5 L564.1,229.0 L564.5,226.6 L564.9,224.1 L565.3,221.6 L565.7,219.2 L566.2,216.7 L566.7,214.3 L567.2,211.9 L568.0,209.6 L569.1,207.3 L570.5,205.2 L572.1,203.4 L574.0,201.8 L576.1,200.4 L578.3,199.3 L580.6,198.3 L582.7,197.0 L584.4,195.2 L586.1,193.2 L588.1,192.1 L590.4,191.3 L592.9,190.6 L595.3,189.9 L597.5,188.9 L599.8,187.8 L601.9,186.6 L604.1,185.4 L606.3,184.2 L608.6,183.2 L610.9,182.2 L613.2,181.3 L615.5,180.5 L617.9,179.7 L620.2,178.9 L622.6,178.2 L625.0,177.5 L627.4,176.9 L629.8,176.3 L632.2,175.7 L634.6,175.2 L637.0,174.6 L639.5,174.1 L641.9,173.6 L644.3,173.1 L646.8,172.6 L649.2,172.1 L651.6,171.7 L654.1,171.3 L656.5,170.8 L659.0,170.4 L661.4,170.0 L663.9,169.7 L666.3,169.3 L668.8,168.9 L671.2,168.6 L673.7,168.3 L676.1,167.9 L678.6,167.6 L681.1,167.3 L683.5,167.0 L686.0,166.7 L688.5,166.4 L690.9,166.1 L693.4,165.9 L695.8,165.6 L698.3,165.3 L700.8,165.1 L703.3,164.8 L705.7,164.6 L708.2,164.3 L710.7,164.1 L713.1,163.9 L715.6,163.6 L718.1,163.4 L720.5,163.2 L723.0,163.0 L725.5,162.8 L728.0,162.6 L730.4,162.4 L732.9,162.1 L735.4,161.9 L737.8,161.8 L740.3,161.6 L742.8,161.4 L745.3,161.2 L747.7,161.0 L750.2,160.8 L752.7,160.6 L755.2,160.4 L757.6,160.3 L760.1,160.1 L762.6,159.9 L765.1,159.7 L767.5,159.6 L770.0,159.4 L772.5,159.2 L774.9,159.1 L777.4,158.9 L779.9,158.7 L782.4,158.6 L784.8,158.4 L787.3,158.2 L789.8,158.1 L792.3,157.9 L794.8,157.8 L797.2,157.6 L799.7,157.5 L802.2,157.3 L804.7,157.1 L807.1,157.0 L809.6,156.8 L812.1,156.7 L814.6,156.5 L817.0,156.4 L819.5,156.2 L822.0,156.1 L824.5,156.0 L826.9,155.8 L829.4,155.7 L831.9,155.5 L834.4,155.4 L836.8,155.2 L839.3,155.1 L841.8,155.0 L844.3,154.8 L846.7,154.7 L849.2,154.5 L851.7,154.4 L854.2,154.3 L856.7,154.1 L859.1,154.0 L861.6,153.8 L864.1,153.7 L866.6,153.6 L869.0,153.4 L871.5,153.3 L874.0,153.2 L876.5,153.0 L878.9,152.9 L881.4,152.8 L883.9,152.6 L886.4,152.5 L888.9,152.4 L891.3,152.2 L893.8,152.1 L896.3,152.0 L898.8,151.8 L901.2,151.7 L903.7,151.6 L906.2,151.5 L908.7,151.3 L911.1,151.2 L913.6,151.1 L916.1,151.0 L918.6,150.9 L921.1,150.8 L923.5,150.6 L926.0,150.5 L928.5,150.4 L931.0,150.3 L933.5,150.3 L935.9,150.3 L938.4,150.3 L940.9,150.3 L943.4,150.3 L945.8,150.3 L948.3,150.3 L950.8,150.3 L953.3,150.3 L955.8,150.3 L958.3,150.3 L960.7,150.3 L963.2,150.3 L965.7,150.3 L965.7,150.5 L963.2,150.5 L960.7,150.5 L958.3,150.5 L955.8,150.5 L953.3,150.5 L950.8,150.5 L948.4,150.5 L945.9,150.5 L943.4,150.5 L940.9,150.5 L938.5,150.5 L936.0,150.5 L933.5,150.5 L931.0,150.5 L928.6,150.5 L926.1,150.7 L923.6,150.9 L921.2,151.0 L918.7,151.1 L916.2,151.3 L913.8,151.4 L911.3,151.6 L908.8,151.7 L906.3,151.8 L903.9,152.0 L901.4,152.1 L898.9,152.2 L896.5,152.4 L894.0,152.5 L891.5,152.6 L889.0,152.8 L886.6,152.9 L884.1,153.1 L881.6,153.2 L879.2,153.3 L876.7,153.5 L874.2,153.6 L871.7,153.8 L869.3,153.9 L866.8,154.0 L864.3,154.2 L861.9,154.3 L859.4,154.5 L856.9,154.6 L854.4,154.8 L852.0,154.9 L849.5,155.1 L847.0,155.2 L844.6,155.4 L842.1,155.5 L839.6,155.7 L837.2,155.8 L834.7,156.0 L832.2,156.1 L829.7,156.3 L827.3,156.4 L824.8,156.6 L822.3,156.8 L819.9,156.9 L817.4,157.1 L814.9,157.2 L812.5,157.4 L810.0,157.6 L807.5,157.7 L805.0,157.9 L802.6,158.1 L800.1,158.3 L797.6,158.4 L795.2,158.6 L792.7,158.8 L790.2,159.0 L787.8,159.2 L785.3,159.3 L782.8,159.5 L780.4,159.7 L777.9,159.9 L775.4,160.1 L773.0,160.3 L770.5,160.5 L768.0,160.7 L765.6,160.9 L763.1,161.1 L760.6,161.3 L758.2,161.5 L755.7,161.7 L753.2,161.9 L750.8,162.1 L748.3,162.4 L745.8,162.6 L743.4,162.8 L740.9,163.0 L738.4,163.3 L736.0,163.5 L733.5,163.7 L731.0,164.0 L728.6,164.2 L726.1,164.5 L723.7,164.7 L721.2,165.0 L718.7,165.2 L716.3,165.5 L713.8,165.8 L711.4,166.0 L708.9,166.3 L706.4,166.6 L704.0,166.9 L701.5,167.2 L699.1,167.5 L696.6,167.8 L694.2,168.1 L691.7,168.4 L689.2,168.7 L686.8,169.0 L684.3,169.4 L681.9,169.7 L679.4,170.1 L677.0,170.4 L674.5,170.8 L672.1,171.2 L669.6,171.5 L667.2,171.9 L664.8,172.3 L662.3,172.7 L659.9,173.2 L657.4,173.6 L655.0,174.1 L652.6,174.5 L650.2,175.0 L647.7,175.5 L645.3,176.0 L642.9,176.6 L640.5,177.1 L638.0,177.5 L635.6,177.9 L633.1,178.2 L630.7,178.5 L628.2,178.8 L625.7,179.2 L623.3,179.6 L620.9,180.1 L618.5,180.7 L616.1,181.5 L613.8,182.3 L611.4,183.2 L609.2,184.1 L607.0,185.2 L604.8,186.5 L602.7,187.9 L600.8,189.3 L599.0,191.0 L597.3,192.8 L595.6,194.6 L593.8,196.3 L591.9,198.0 L590.1,199.6 L588.2,201.2 L586.3,202.8 L584.4,204.4 L582.4,205.9 L580.3,207.4 L578.5,209.0 L576.9,210.8 L575.5,213.0 L574.6,215.3 L574.2,217.6 L573.8,220.1 L573.6,222.6 L573.2,225.0 L572.8,227.5 L572.3,229.9 L571.8,232.3 L571.3,234.8 L570.8,237.2 L570.3,239.6 L569.7,242.0 L569.3,244.5 L568.8,246.9 L568.4,249.3 L568.0,251.8 L567.7,254.2 L567.3,256.7 L567.0,259.1 L566.7,261.6 L566.4,264.0 L566.1,266.5 L565.8,269.0 L565.5,271.4 L565.3,273.9 L565.0,276.3 L564.7,278.8 L564.4,281.3 L564.1,283.7 L563.8,286.2 L563.5,288.6 L563.2,291.1 L562.8,293.5 L562.5,296.0 L562.1,298.4 L561.7,300.9 L561.2,303.3 L560.7,305.7 L560.2,308.1 L559.6,310.5 L559.1,313.0 L558.5,315.4 L558.0,317.8 L557.4,320.2 L556.9,322.6 L556.4,325.1 L556.0,327.5 L555.5,329.9 L555.0,332.3 L554.6,334.8 L554.1,337.2 L553.6,339.6 L553.2,342.1 L552.8,344.5 L552.3,346.9 L551.9,349.4 L551.4,351.8 L551.0,354.2 L550.5,356.7 L550.1,359.1 L549.6,361.6 L549.2,364.0 L548.7,366.4 L548.3,368.8 L547.8,371.3 L547.3,373.7 L546.9,376.1 L546.4,378.6 L545.9,381.0 L545.5,383.4 L545.0,385.9 L544.4,388.3 L543.9,390.7 L543.3,393.1 L542.7,395.5 L542.1,397.9 L541.5,400.3 L540.8,402.7Z" fill="#ff00ff" stroke="none"/>
<path d="M135.5,496.8 L138.0,496.8 L140.5,496.8 L142.9,496.8 L145.4,496.8 L147.9,496.8 L150.4,496.8 L152.9,496.8 L155.4,496.8 L157.8,496.8 L160.3,496.8 L162.8,496.8 L165.3,496.8 L167.8,496.8 L170.2,496.8 L172.7,496.8 L175.2,496.8 L177.7,496.8 L180.1,496.7 L182.6,496.6 L185.1,496.5 L187.6,496.4 L190.1,496.3 L192.5,496.1 L195.0,496.0 L197.5,495.9 L200.0,495.8 L202.4,495.7 L204.9,495.6 L207.4,495.5 L209.9,495.3 L212.4,495.2 L214.8,495.1 L217.3,495.0 L219.8,494.9 L222.3,494.7 L224.7,494.6 L227.2,494.5 L229.7,494.4 L232.2,494.2 L234.7,494.1 L237.1,494.0 L239.6,493.8 L242.1,493.7 L244.6,493.6 L247.0,493.4 L249.5,493.3 L252.0,493.2 L254.5,493.0 L256.9,492.9 L259.4,492.8 L261.9,492.6 L264.4,492.5 L266.9,492.3 L269.3,492.2 L271.8,492.0 L274.3,491.9 L276.8,491.7 L279.2,491.6 L281.7,491.4 L284.2,491.3 L286.7,491.1 L289.1,490.9 L291.6,490.8 L294.1,490.6 L296.6,490.4 L299.0,490.3 L301.5,490.1 L304.0,489.9 L306.5,489.8 L308.9,489.6 L311.4,489.4 L313.9,489.2 L316.4,489.0 L318.8,488.8 L321.3,488.7 L323.8,488.5 L326.2,488.3 L328.7,488.1 L331.2,487.9 L333.7,487.7 L336.1,487.5 L338.6,487.2 L341.1,487.0 L343.5,486.8 L346.0,486.6 L348.5,486.4 L351.0,486.1 L353.4,485.9 L355.9,485.7 L358.4,485.4 L360.8,485.2 L363.3,485.0 L365.8,484.7 L368.2,484.4 L370.7,484.2 L373.2,483.9 L375.6,483.6 L378.1,483.4 L380.6,483.1 L383.0,482.8 L385.5,482.5 L388.0,482.2 L390.4,481.9 L392.9,481.6 L395.3,481.3 L397.8,481.0 L400.3,480.6 L402.7,480.3 L405.2,480.0 L407.6,479.6 L410.1,479.2 L412.5,478.9 L415.0,478.5 L417.4,478.1 L419.9,477.7 L422.3,477.3 L424.8,476.9 L427.2,476.5 L429.7,476.0 L432.1,475.6 L434.5,475.1 L437.0,474.7 L439.4,474.2 L441.8,473.7 L444.3,473.2 L446.7,472.6 L449.1,472.1 L451.5,471.5 L453.9,471.0 L456.3,470.4 L458.7,469.8 L461.1,469.1 L463.5,468.5 L465.9,467.8 L468.3,467.1 L470.7,466.3 L473.0,465.6 L475.4,464.8 L477.7,464.0 L480.1,463.2 L482.4,462.3 L484.7,461.4 L487.0,460.4 L489.3,459.4 L491.5,458.4 L493.8,457.3 L496.0,456.2 L498.1,455.0 L500.3,453.8 L502.6,452.9 L505.0,452.1 L507.3,451.3 L509.5,450.2 L511.6,448.7 L513.4,447.1 L514.8,445.1 L516.0,443.0 L517.1,440.7 L518.3,438.4 L519.4,436.2 L520.4,434.0 L521.5,431.7 L522.5,429.4 L523.6,427.2 L524.6,424.9 L525.7,422.7 L526.7,420.5 L527.8,418.2 L528.9,416.0 L530.0,413.7 L531.0,411.5 L532.1,409.3 L533.2,407.0 L534.2,404.8 L535.1,402.5 L535.9,400.1 L536.6,397.8 L537.3,395.4 L537.9,393.0 L538.5,390.5 L539.0,388.1 L539.5,385.7 L539.9,383.2 L540.3,380.8 L540.7,378.3 L541.1,375.9 L541.5,373.4 L541.9,371.0 L542.2,368.5 L542.6,366.1 L542.9,363.6 L543.2,361.1 L543.5,358.7 L543.7,356.2 L544.0,353.7 L544.3,351.3 L544.5,348.8 L544.8,346.3 L545.0,343.8 L545.3,341.4 L545.6,338.9 L545.9,336.4 L546.2,334.0 L546.5,331.5 L546.8,329.1 L547.2,326.6 L547.6,324.2 L548.1,321.8 L548.6,319.4 L549.2,317.0 L549.9,314.6 L550.6,312.2 L551.4,309.8 L552.1,307.4 L552.7,305.0 L553.4,302.6 L553.9,300.2 L554.4,297.8 L554.8,295.4 L555.3,292.9 L555.7,290.5 L556.0,288.0 L556.4,285.6 L556.8,283.1 L557.1,280.7 L557.4,278.2 L557.8,275.7 L558.1,273.3 L558.4,270.8 L558.7,268.4 L559.0,265.9 L559.3,263.4 L559.6,261.0 L559.9,258.5 L560.3,256.0 L560.6,253.6 L560.9,251.1 L561.3,248.6 L561.6,246.2 L562.0,243.7 L562.3,241.3 L562.7,238.8 L563.0,236.4 L563.4,233.9 L563.8,231.5 L564.1,229.0 L564.5,226.6 L564.9,224.1 L565.3,221.6 L565.7,219.2 L566.2,216.7 L566.7,214.3 L567.2,211.9 L568.0,209.6 L569.1,207.3 L570.5,205.2 L572.1,203.4 L574.0,201.8 L576.1,200.4 L578.3,199.3 L580.6,198.3 L582.7,197.0 L584.4,195.2 L586.1,193.2 L588.1,192.1 L590.4,191.3 L592.9,190.6 L595.3,189.9 L597.5,188.9 L599.8,187.8 L601.9,186.6 L604.1,185.4 L606.3,184.2 L608.6,183.2 L610.9,182.2 L613.2,181.3 L615.5,180.5 L617.9,179.7 L620.2,178.9 L622.6,178.2 L625.0,177.5 L627.4,176.9 L629.8,176.3 L632.2,175.7 L634.6,175.2 L637.0,174.6 L639.5,174.1 L641.9,173.6 L644.3,173.1 L646.8,172.6 L649.2,172.1 L651.6,171.7 L654.1,171.3 L656.5,170.8 L659.0,170.4 L661.4,170.0 L663.9,169.7 L666.3,169.3 L668.8,168.9 L671.2,168.6 L673.7,168.3 L676.1,167.9 L678.6,167.6 L681.1,167.3 L683.5,167.0 L686.0,166.7 L688.5,166.4 L690.9,166.1 L693.4,165.9 L695.8,165.6 L698.3,165.3 L700.8,165.1 L703.3,164.8 L705.7,164.6 L708.2,164.3 L710.7,164.1 L713.1,163.9 L715.6,163.6 L718.1,163.4 L720.5,163.2 L723.0,163.0 L725.5,162.8 L728.0,162.6 L730.4,162.4 L732.9,162.1 L735.4,161.9 L737.8,161.8 L740.3,161.6 L742.8,161.4 L745.3,161.2 L747.7,161.0 L750.2,160.8 L752.7,160.6 L755.2,160.4 L757.6,160.3 L760.1,160.1 L762.6,159.9 L765.1,159.7 L767.5,159.6 L770.0,159.4 L772.5,159.2 L774.9,159.1 L777.4,158.9 L779.9,158.7 L782.4,158.6 L784.8,158.4 L787.3,158.2 L789.8,158.1 L792.3,157.9 L794.8,157.8 L797.2,157.6 L799.7,157.5 L802.2,157.3 L804.7,157.1 L807.1,157.0 L809.6,156.8 L812.1,156.7 L814.6,156.5 L817.0,156.4 L819.5,156.2 L822.0,156.1 L824.5,156.0 L826.9,155.8 L829.4,155.7 L831.9,155.5 L834.4,155.4 L836.8,155.2 L839.3,155.1 L841.8,155.0 L844.3,154.8 L846.7,154.7 L849.2,154.5 L851.7,154.4 L854.2,154.3 L856.7,154.1 L859.1,154.0 L861.6,153.8 L864.1,153.7 L866.6,153.6 L869.0,153.4 L871.5,153.3 L874.0,153.2 L876.5,153.0 L878.9,152.9 L881.4,152.8 L883.9,152.6 L886.4,152.5 L888.9,152.4 L891.3,152.2 L893.8,152.1 L896.3,152.0 L898.8,151.8 L901.2,151.7 L903.7,151.6 L906.2,151.5 L908.7,151.3 L911.1,151.2 L913.6,151.1 L916.1,151.0 L918.6,150.9 L921.1,150.8 L923.5,150.6 L926.0,150.5 L928.5,150.4 L931.0,150.3 L933.5,150.3 L935.9,150.3 L938.4,150.3 L940.9,150.3 L943.4,150.3 L945.8,150.3 L948.3,150.3 L950.8,150.3 L953.3,150.3 L955.8,150.3 L958.3,150.3 L960.7,150.3 L963.2,150.3 L965.7,150.3" fill="none" stroke="#ff00ff" stroke-width="5.3" stroke-linejoin="round"/>
<path d="M135.5,497.1 L138.0,497.1 L140.5,497.1 L142.9,497.1 L145.4,497.1 L147.9,497.1 L150.4,497.1 L152.8,497.1 L155.3,497.1 L157.8,497.1 L160.3,497.1 L162.7,497.1 L165.2,497.1 L167.7,497.1 L170.2,497.1 L172.6,497.1 L175.1,497.1 L177.6,497.1 L180.0,497.0 L182.5,496.9 L185.0,496.8 L187.5,496.7 L189.9,496.6 L192.4,496.5 L194.9,496.4 L197.4,496.2 L199.8,496.1 L202.3,496.0 L204.8,495.9 L207.2,495.8 L209.7,495.7 L212.2,495.6 L214.7,495.4 L217.1,495.3 L219.6,495.2 L222.1,495.1 L224.5,495.0 L227.0,494.8 L229.5,494.7 L232.0,494.6 L234.4,494.5 L236.9,494.3 L239.4,494.2 L241.9,494.1 L244.3,494.0 L246.8,493.8 L249.3,493.7 L251.7,493.6 L254.2,493.4 L256.7,493.3 L259.2,493.2 L261.6,493.0 L264.1,492.9 L266.6,492.8 L269.0,492.6 L271.5,492.5 L274.0,492.3 L276.5,492.2 L278.9,492.1 L281.4,491.9 L283.9,491.8 L286.3,491.6 L288.8,491.5 L291.3,491.3 L293.7,491.2 L296.2,491.0 L298.7,490.9 L301.2,490.7 L303.6,490.5 L306.1,490.4 L308.6,490.2 L311.0,490.1 L313.5,489.9 L316.0,489.7 L318.4,489.5 L320.9,489.4 L323.4,489.2 L325.8,489.0 L328.3,488.8 L330.8,488.7 L333.3,488.5 L335.7,488.3 L338.2,488.1 L340.7,487.9 L343.1,487.7 L345.6,487.5 L348.1,487.3 L350.5,487.1 L353.0,486.9 L355.5,486.7 L357.9,486.5 L360.4,486.3 L362.9,486.0 L365.3,485.8 L367.8,485.6 L370.2,485.4 L372.7,485.1 L375.2,484.9 L377.6,484.6 L380.1,484.4 L382.6,484.1 L385.0,483.9 L387.5,483.6 L389.9,483.3 L392.4,483.1 L394.9,482.8 L397.3,482.5 L399.8,482.2 L402.2,481.9 L404.7,481.6 L407.1,481.3 L409.6,480.9 L412.0,480.6 L414.5,480.2 L416.9,479.9 L419.4,479.5 L421.8,479.2 L424.3,478.8 L426.7,478.4 L429.2,478.0 L431.6,477.6 L434.1,477.2 L436.5,476.7 L438.9,476.3 L441.4,475.8 L443.8,475.3 L446.2,474.8 L448.6,474.3 L451.0,473.8 L453.5,473.3 L455.9,472.7 L458.3,472.1 L460.7,471.5 L463.1,470.9 L465.5,470.2 L467.8,469.6 L470.2,468.9 L472.6,468.1 L474.9,467.4 L477.3,466.6 L479.6,465.8 L482.0,465.0 L484.3,464.1 L486.6,463.2 L488.9,462.3 L491.2,461.3 L493.4,460.3 L495.7,459.2 L497.9,458.1 L500.0,456.9 L502.3,455.9 L504.6,455.1 L507.0,454.4 L509.3,453.5 L511.6,452.5 L513.8,451.4 L515.9,450.1 L518.0,448.7 L519.9,447.1 L521.6,445.4 L523.1,443.4 L524.4,441.3 L525.6,439.1 L526.8,436.9 L528.1,434.8 L529.4,432.7 L530.7,430.5 L531.8,428.4 L532.7,426.1 L533.6,423.8 L534.5,421.5 L535.3,419.1 L536.1,416.8 L536.9,414.4 L537.7,412.1 L538.5,409.7 L539.3,407.4 L540.1,405.0 L540.8,402.7 L541.5,400.3 L542.1,397.9 L542.7,395.5 L543.3,393.1 L543.9,390.7 L544.4,388.3 L545.0,385.9 L545.5,383.4 L545.9,381.0 L546.4,378.6 L546.9,376.1 L547.3,373.7 L547.8,371.3 L548.3,368.8 L548.7,366.4 L549.2,364.0 L549.6,361.6 L550.1,359.1 L550.5,356.7 L551.0,354.2 L551.4,351.8 L551.9,349.4 L552.3,346.9 L552.8,344.5 L553.2,342.1 L553.6,339.6 L554.1,337.2 L554.6,334.8 L555.0,332.3 L555.5,329.9 L556.0,327.5 L556.4,325.1 L556.9,322.6 L557.4,320.2 L558.0,317.8 L558.5,315.4 L559.1,313.0 L559.6,310.5 L560.2,308.1 L560.7,305.7 L561.2,303.3 L561.7,300.9 L562.1,298.4 L562.5,296.0 L562.8,293.5 L563.2,291.1 L563.5,288.6 L563.8,286.2 L564.1,283.7 L564.4,281.3 L564.7,278.8 L565.0,276.3 L565.3,273.9 L565.5,271.4 L565.8,269.0 L566.1,266.5 L566.4,264.0 L566.7,261.6 L567.0,259.1 L567.3,256.7 L567.7,254.2 L568.0,251.8 L568.4,249.3 L568.8,246.9 L569.3,244.5 L569.7,242.0 L570.3,239.6 L570.8,237.2 L571.3,234.8 L571.8,232.3 L572.3,229.9 L572.8,227.5 L573.2,225.0 L573.6,222.6 L573.8,220.1 L574.2,217.6 L574.6,215.3 L575.5,213.0 L576.9,210.8 L578.5,209.0 L580.3,207.4 L582.4,205.9 L584.4,204.4 L586.3,202.8 L588.2,201.2 L590.1,199.6 L591.9,198.0 L593.8,196.3 L595.6,194.6 L597.3,192.8 L599.0,191.0 L600.8,189.3 L602.7,187.9 L604.8,186.5 L607.0,185.2 L609.2,184.1 L611.4,183.2 L613.8,182.3 L616.1,181.5 L618.5,180.7 L620.9,180.1 L623.3,179.6 L625.7,179.2 L628.2,178.8 L630.7,178.5 L633.1,178.2 L635.6,177.9 L638.0,177.5 L640.5,177.1 L642.9,176.6 L645.3,176.0 L647.7,175.5 L650.2,175.0 L652.6,174.5 L655.0,174.1 L657.4,173.6 L659.9,173.2 L662.3,172.7 L664.8,172.3 L667.2,171.9 L669.6,171.5 L672.1,171.2 L674.5,170.8 L677.0,170.4 L679.4,170.1 L681.9,169.7 L684.3,169.4 L686.8,169.0 L689.2,168.7 L691.7,168.4 L694.2,168.1 L696.6,167.8 L699.1,167.5 L701.5,167.2 L704.0,166.9 L706.4,166.6 L708.9,166.3 L711.4,166.0 L713.8,165.8 L716.3,165.5 L718.7,165.2 L721.2,165.0 L723.7,164.7 L726.1,164.5 L728.6,164.2 L731.0,164.0 L733.5,163.7 L736.0,163.5 L738.4,163.3 L740.9,163.0 L743.4,162.8 L745.8,162.6 L748.3,162.4 L750.8,162.1 L753.2,161.9 L755.7,161.7 L758.2,161.5 L760.6,161.3 L763.1,161.1 L765.6,160.9 L768.0,160.7 L770.5,160.5 L773.0,160.3 L775.4,160.1 L777.9,159.9 L780.4,159.7 L782.8,159.5 L785.3,159.3 L787.8,159.2 L790.2,159.0 L792.7,158.8 L795.2,158.6 L797.6,158.4 L800.1,158.3 L802.6,158.1 L805.0,157.9 L807.5,157.7 L810.0,157.6 L812.5,157.4 L814.9,157.2 L817.4,157.1 L819.9,156.9 L822.3,156.8 L824.8,156.6 L827.3,156.4 L829.7,156.3 L832.2,156.1 L834.7,156.0 L837.2,155.8 L839.6,155.7 L842.1,155.5 L844.6,155.4 L847.0,155.2 L849.5,155.1 L852.0,154.9 L854.4,154.8 L856.9,154.6 L859.4,154.5 L861.9,154.3 L864.3,154.2 L866.8,154.0 L869.3,153.9 L871.7,153.8 L874.2,153.6 L876.7,153.5 L879.2,153.3 L881.6,153.2 L884.1,153.1 L886.6,152.9 L889.0,152.8 L891.5,152.6 L894.0,152.5 L896.5,152.4 L898.9,152.2 L901.4,152.1 L903.9,152.0 L906.3,151.8 L908.8,151.7 L911.3,151.6 L913.8,151.4 L916.2,151.3 L918.7,151.1 L921.2,151.0 L923.6,150.9 L926.1,150.7 L928.6,150.5 L931.0,150.5 L933.5,150.5 L936.0,150.5 L938.5,150.5 L940.9,150.5 L943.4,150.5 L945.9,150.5 L948.4,150.5 L950.8,150.5 L953.3,150.5 L955.8,150.5 L958.3,150.5 L960.7,150.5 L963.2,150.5 L965.7,150.5" fill="none" stroke="#ff00ff" stroke-width="5.3" stroke-linejoin="round"/>
<path d="M135.5,576.4 L138.2,576.4 L140.9,576.4 L143.6,576.4 L146.3,576.4 L149.0,576.4 L151.6,576.4 L154.3,576.4 L157.0,576.4 L159.7,576.4 L162.4,576.4 L165.0,576.4 L167.7,576.4 L170.4,576.4 L173.1,576.4 L175.7,576.3 L178.4,576.0 L181.0,575.7 L183.7,575.4 L186.4,575.0 L189.0,574.7 L191.7,574.4 L194.4,574.1 L197.0,573.8 L199.7,573.5 L202.3,573.2 L205.0,572.9 L207.7,572.5 L210.3,572.2 L213.0,571.9 L215.7,571.6 L218.3,571.3 L221.0,570.9 L223.6,570.6 L226.3,570.3 L229.0,570.0 L231.6,569.6 L234.3,569.3 L237.0,569.0 L239.6,568.6 L242.3,568.3 L244.9,568.0 L247.6,567.6 L250.3,567.3 L252.9,566.9 L255.6,566.6 L258.2,566.2 L260.9,565.9 L263.6,565.5 L266.2,565.2 L268.9,564.8 L271.5,564.5 L274.2,564.1 L276.8,563.7 L279.5,563.4 L282.2,563.0 L284.8,562.6 L287.5,562.2 L290.1,561.9 L292.8,561.5 L295.4,561.1 L298.1,560.7 L300.7,560.3 L303.4,559.9 L306.0,559.5 L308.7,559.1 L311.3,558.7 L314.0,558.3 L316.6,557.9 L319.3,557.5 L321.9,557.1 L324.6,556.6 L327.2,556.2 L329.9,555.8 L332.5,555.3 L335.2,554.9 L337.8,554.5 L340.5,554.0 L343.1,553.5 L345.7,553.1 L348.4,552.6 L351.0,552.1 L353.7,551.7 L356.3,551.2 L358.9,550.7 L361.6,550.2 L364.2,549.7 L366.8,549.2 L369.5,548.7 L372.1,548.1 L374.7,547.6 L377.3,547.1 L380.0,546.5 L382.6,545.9 L385.2,545.4 L387.8,544.8 L390.4,544.2 L393.0,543.6 L395.6,543.0 L398.3,542.4 L400.9,541.8 L403.5,541.1 L406.1,540.5 L408.7,539.8 L411.2,539.1 L413.8,538.4 L416.4,537.7 L419.0,537.0 L421.6,536.3 L424.1,535.5 L426.7,534.8 L429.3,534.0 L431.8,533.2 L434.3,532.3 L436.9,531.5 L439.4,530.6 L441.9,529.7 L444.4,528.8 L447.0,527.9 L449.4,526.9 L451.9,526.0 L454.4,524.9 L456.8,523.9 L459.3,522.8 L461.7,521.7 L464.1,520.6 L466.5,519.4 L468.9,518.2 L471.2,516.9 L473.6,515.7 L475.9,514.3 L478.2,513.0 L480.4,511.5 L482.6,510.1 L484.8,508.6 L487.0,507.0 L489.1,505.5 L491.2,503.8 L493.3,502.1 L495.3,500.4 L497.2,498.6 L499.1,496.8 L501.0,494.9 L502.8,493.0 L504.6,491.0 L506.3,489.0 L508.0,486.9 L509.6,484.8 L511.2,482.7 L512.7,480.5 L514.2,478.3 L515.6,476.0 L516.9,473.8 L518.3,471.5 L519.6,469.1 L520.8,466.8 L522.0,464.4 L523.2,462.0 L524.2,459.6 L525.1,457.1 L526.0,454.6 L526.8,452.1 L527.5,449.5 L528.3,446.9 L529.0,444.4 L529.7,441.8 L530.3,439.2 L531.0,436.6 L531.6,434.0 L532.3,431.4 L532.9,428.8 L533.5,426.2 L534.0,423.6 L534.5,421.1 L535.0,418.5 L535.5,415.9 L536.0,413.3 L536.4,410.6 L536.8,408.0 L537.2,405.4 L537.6,402.7 L538.0,400.1 L538.4,397.4 L538.7,394.8 L539.1,392.1 L539.5,389.4 L539.9,386.8 L540.3,384.1 L540.7,381.5 L541.1,378.8 L541.5,376.2 L541.9,373.5 L542.3,370.9 L542.7,368.2 L543.1,365.6 L543.6,362.9 L544.0,360.3 L544.5,357.6 L544.9,355.0 L545.4,352.3 L545.9,349.7 L546.4,347.0 L547.0,344.4 L547.5,341.8 L547.8,339.1 L548.2,336.5 L548.6,333.8 L549.0,331.2 L549.4,328.5 L549.7,325.8 L549.8,323.1 L550.0,320.5 L550.2,317.8 L550.4,315.1 L550.7,312.4 L551.0,309.7 L551.3,307.1 L551.6,304.4 L551.9,301.7 L552.2,299.1 L552.5,296.4 L552.9,293.8 L553.2,291.1 L553.5,288.4 L553.9,285.8 L554.2,283.1 L554.5,280.5 L554.9,277.8 L555.2,275.2 L555.6,272.5 L555.9,269.8 L556.2,267.2 L556.6,264.5 L556.9,261.9 L557.3,259.2 L557.6,256.6 L557.9,253.9 L558.3,251.3 L558.6,248.6 L558.9,246.0 L559.2,243.3 L559.5,240.6 L559.8,237.9 L560.1,235.3 L560.5,232.6 L560.8,229.9 L561.2,227.2 L561.7,224.5 L562.1,221.9 L562.6,219.2 L563.2,216.5 L563.8,213.9 L564.5,211.2 L565.3,208.6 L566.1,206.0 L566.9,203.4 L567.9,200.8 L568.8,198.2 L569.9,195.7 L571.0,193.2 L572.3,190.7 L573.5,188.3 L574.8,185.9 L576.1,183.6 L577.6,181.2 L579.0,178.9 L580.5,176.7 L582.0,174.4 L583.5,172.2 L584.9,169.9 L586.3,167.6 L587.6,165.3 L589.0,162.9 L590.4,160.5 L592.0,158.3 L593.7,156.2 L595.7,154.3 L597.9,152.5 L600.0,150.8 L602.1,149.2 L604.2,147.5 L606.4,145.9 L608.6,144.3 L610.8,142.8 L613.1,141.3 L615.4,139.9 L617.7,138.4 L620.0,137.1 L622.3,135.7 L624.7,134.4 L627.0,133.1 L629.4,131.9 L631.8,130.6 L634.3,129.4 L636.7,128.3 L639.1,127.1 L641.6,126.0 L644.1,125.0 L646.5,123.9 L649.0,122.9 L651.5,121.9 L654.0,120.9 L656.5,119.9 L659.1,119.0 L661.6,118.1 L664.1,117.2 L666.7,116.3 L669.2,115.5 L671.8,114.6 L674.3,113.8 L676.9,113.0 L679.5,112.2 L682.1,111.5 L684.6,110.7 L687.2,110.0 L689.8,109.3 L692.4,108.6 L695.0,107.9 L697.6,107.2 L700.2,106.5 L702.8,105.9 L705.4,105.2 L708.0,104.6 L710.6,104.0 L713.3,103.4 L715.9,102.8 L718.5,102.2 L721.1,101.6 L723.7,101.0 L726.4,100.5 L729.0,99.9 L731.6,99.4 L734.2,98.9 L736.9,98.3 L739.5,97.8 L742.1,97.3 L744.8,96.8 L747.4,96.3 L750.1,95.8 L752.7,95.3 L755.3,94.9 L758.0,94.4 L760.6,93.9 L763.3,93.5 L765.9,93.0 L768.6,92.6 L771.2,92.1 L773.8,91.7 L776.5,91.3 L779.1,90.8 L781.8,90.4 L784.4,90.0 L787.1,89.6 L789.7,89.2 L792.4,88.8 L795.0,88.4 L797.7,88.0 L800.4,87.6 L803.0,87.2 L805.7,86.8 L808.3,86.4 L811.0,86.0 L813.6,85.7 L816.3,85.3 L818.9,84.9 L821.6,84.6 L824.3,84.2 L826.9,83.8 L829.6,83.5 L832.2,83.1 L834.9,82.8 L837.6,82.4 L840.2,82.1 L842.9,81.8 L845.5,81.4 L848.2,81.1 L850.9,80.8 L853.5,80.4 L856.2,80.1 L858.8,79.8 L861.5,79.4 L864.2,79.1 L866.8,78.8 L869.5,78.5 L872.2,78.2 L874.8,77.9 L877.5,77.6 L880.1,77.2 L882.8,76.9 L885.5,76.6 L888.1,76.3 L890.8,76.0 L893.5,75.7 L896.1,75.4 L898.8,75.1 L901.5,74.8 L904.1,74.6 L906.8,74.3 L909.5,74.0 L912.1,73.7 L914.8,73.4 L917.5,73.2 L920.1,72.9 L922.8,72.6 L925.5,72.3 L928.2,72.1 L930.8,72.1 L933.5,72.1 L936.2,72.1 L938.9,72.1 L941.5,72.1 L944.2,72.1 L946.9,72.1 L949.6,72.1 L952.3,72.1 L954.9,72.1 L957.6,72.1 L960.3,72.1 L963.0,72.1 L965.7,72.1 L965.7,72.2 L963.0,72.2 L960.3,72.2 L957.6,72.2 L954.9,72.2 L952.3,72.2 L949.6,72.2 L946.9,72.2 L944.2,72.2 L941.5,72.2 L938.9,72.2 L936.2,72.2 L933.5,72.2 L930.8,72.2 L928.2,72.2 L925.5,72.4 L922.8,72.8 L920.2,73.1 L917.5,73.4 L914.8,73.7 L912.2,73.9 L909.5,74.2 L906.8,74.5 L904.2,74.8 L901.5,75.1 L898.8,75.4 L896.2,75.7 L893.5,76.0 L890.8,76.3 L888.2,76.6 L885.5,76.9 L882.8,77.3 L880.2,77.6 L877.5,77.9 L874.9,78.2 L872.2,78.5 L869.5,78.8 L866.9,79.1 L864.2,79.5 L861.5,79.8 L858.9,80.1 L856.2,80.5 L853.6,80.8 L850.9,81.1 L848.2,81.5 L845.6,81.8 L842.9,82.2 L840.3,82.5 L837.6,82.9 L834.9,83.2 L832.3,83.6 L829.6,83.9 L827.0,84.3 L824.3,84.7 L821.7,85.0 L819.0,85.4 L816.4,85.8 L813.7,86.2 L811.0,86.6 L808.4,87.0 L805.7,87.4 L803.1,87.8 L800.4,88.2 L797.8,88.6 L795.1,89.0 L792.5,89.4 L789.8,89.8 L787.2,90.2 L784.5,90.7 L781.9,91.1 L779.3,91.5 L776.6,92.0 L774.0,92.4 L771.3,92.9 L768.7,93.4 L766.1,93.8 L763.4,94.3 L760.8,94.8 L758.1,95.3 L755.5,95.8 L752.9,96.3 L750.2,96.8 L747.6,97.3 L745.0,97.8 L742.4,98.3 L739.7,98.9 L737.1,99.4 L734.5,100.0 L731.9,100.5 L729.2,101.1 L726.6,101.7 L724.0,102.3 L721.4,102.9 L718.8,103.5 L716.2,104.1 L713.6,104.7 L711.0,105.4 L708.4,106.0 L705.8,106.7 L703.2,107.3 L700.6,108.0 L698.0,108.7 L695.4,109.4 L692.8,110.1 L690.3,110.9 L687.7,111.6 L685.1,112.4 L682.6,113.2 L680.0,114.0 L677.5,114.8 L674.9,115.6 L672.4,116.4 L669.8,117.3 L667.3,118.2 L664.8,119.1 L662.3,120.0 L659.8,120.9 L657.3,121.9 L654.8,122.8 L652.3,123.8 L649.8,124.9 L647.4,125.9 L644.9,127.0 L642.5,128.1 L640.1,129.2 L637.7,130.3 L635.3,131.5 L632.9,132.7 L630.5,133.9 L628.2,135.2 L625.8,136.5 L623.5,137.8 L621.2,139.1 L618.9,140.5 L616.7,141.9 L614.4,143.4 L612.2,144.9 L610.0,146.4 L607.9,147.9 L605.7,149.5 L603.6,151.1 L601.5,152.8 L599.4,154.5 L597.4,156.2 L595.6,157.9 L594.0,159.8 L592.5,161.9 L591.1,164.2 L589.8,166.5 L588.5,168.9 L587.1,171.3 L585.6,173.6 L584.2,175.8 L582.7,178.1 L581.3,180.4 L580.0,182.7 L578.8,185.0 L577.7,187.4 L576.7,189.8 L575.7,192.3 L574.7,194.7 L573.9,197.2 L573.2,199.7 L572.5,202.3 L571.9,204.8 L571.3,207.4 L570.8,210.0 L570.3,212.6 L569.8,215.2 L569.3,217.8 L568.8,220.4 L568.4,223.0 L567.9,225.6 L567.5,228.2 L567.1,230.8 L566.7,233.4 L566.3,236.1 L566.0,238.7 L565.6,241.4 L565.3,244.0 L565.0,246.7 L564.6,249.4 L564.3,252.0 L563.9,254.7 L563.5,257.4 L563.1,260.0 L562.7,262.7 L562.3,265.3 L561.9,268.0 L561.5,270.6 L561.1,273.3 L560.6,275.9 L560.2,278.6 L559.7,281.2 L559.3,283.9 L558.8,286.5 L558.3,289.2 L557.8,291.8 L557.3,294.5 L556.8,297.1 L556.2,299.7 L555.7,302.4 L555.1,305.0 L554.5,307.6 L553.9,310.2 L553.3,312.8 L552.6,315.5 L552.0,318.1 L551.3,320.7 L550.7,323.3 L550.0,325.9 L549.4,328.5 L549.0,331.2 L548.6,333.8 L548.2,336.5 L547.8,339.1 L547.5,341.8 L547.2,344.4 L547.0,347.1 L546.8,349.8 L546.6,352.5 L546.3,355.2 L546.1,357.8 L545.9,360.5 L545.7,363.2 L545.5,365.8 L545.3,368.5 L545.0,371.2 L544.8,373.9 L544.5,376.5 L544.3,379.2 L544.0,381.9 L543.7,384.6 L543.4,387.2 L543.1,389.9 L542.9,392.6 L542.6,395.2 L542.3,397.9 L542.0,400.6 L541.7,403.3 L541.3,405.9 L541.0,408.6 L540.6,411.3 L540.2,413.9 L539.8,416.6 L539.4,419.3 L538.9,421.9 L538.3,424.6 L537.7,427.2 L537.0,429.9 L536.3,432.5 L535.5,435.1 L534.7,437.7 L533.8,440.2 L533.0,442.8 L532.1,445.3 L531.3,447.9 L530.4,450.4 L529.5,453.0 L528.5,455.5 L527.5,458.1 L526.5,460.6 L525.4,463.0 L524.3,465.5 L523.1,467.9 L521.8,470.3 L520.4,472.7 L519.1,475.0 L517.7,477.4 L516.3,479.6 L514.8,481.9 L513.2,484.1 L511.6,486.3 L509.9,488.5 L508.2,490.6 L506.5,492.6 L504.6,494.6 L502.8,496.6 L500.9,498.5 L498.9,500.4 L496.9,502.2 L494.8,504.0 L492.7,505.7 L490.6,507.4 L488.4,509.0 L486.2,510.6 L484.0,512.1 L481.7,513.5 L479.4,515.0 L477.1,516.3 L474.7,517.7 L472.3,519.0 L469.9,520.2 L467.5,521.4 L465.1,522.6 L462.6,523.7 L460.2,524.8 L457.7,525.9 L455.2,526.9 L452.7,527.9 L450.2,528.9 L447.7,529.8 L445.1,530.7 L442.6,531.6 L440.0,532.5 L437.5,533.3 L434.9,534.2 L432.4,535.0 L429.8,535.7 L427.2,536.5 L424.6,537.2 L422.0,538.0 L419.4,538.7 L416.8,539.4 L414.2,540.0 L411.6,540.7 L409.0,541.3 L406.4,542.0 L403.8,542.6 L401.2,543.2 L398.6,543.8 L396.0,544.4 L393.3,545.0 L390.7,545.5 L388.1,546.1 L385.5,546.6 L382.8,547.2 L380.2,547.7 L377.6,548.2 L374.9,548.7 L372.3,549.2 L369.7,549.7 L367.0,550.2 L364.4,550.7 L361.7,551.2 L359.1,551.7 L356.5,552.1 L353.8,552.6 L351.2,553.1 L348.5,553.5 L345.9,554.0 L343.2,554.4 L340.6,554.8 L337.9,555.3 L335.3,555.7 L332.6,556.1 L330.0,556.5 L327.3,556.9 L324.7,557.3 L322.0,557.8 L319.4,558.2 L316.7,558.6 L314.1,558.9 L311.4,559.3 L308.8,559.7 L306.1,560.1 L303.5,560.5 L300.8,560.9 L298.2,561.3 L295.5,561.6 L292.8,562.0 L290.2,562.4 L287.5,562.7 L284.9,563.1 L282.2,563.5 L279.6,563.8 L276.9,564.2 L274.2,564.5 L271.6,564.9 L268.9,565.3 L266.3,565.6 L263.6,566.0 L260.9,566.3 L258.3,566.6 L255.6,567.0 L253.0,567.3 L250.3,567.7 L247.6,568.0 L245.0,568.3 L242.3,568.7 L239.7,569.0 L237.0,569.3 L234.3,569.7 L231.7,570.0 L229.0,570.3 L226.4,570.6 L223.7,571.0 L221.0,571.3 L218.4,571.6 L215.7,571.9 L213.0,572.2 L210.4,572.6 L207.7,572.9 L205.0,573.2 L202.4,573.5 L199.7,573.8 L197.1,574.1 L194.4,574.4 L191.7,574.7 L189.1,575.1 L186.4,575.4 L183.7,575.7 L181.1,576.0 L178.4,576.3 L175.7,576.6 L173.1,576.7 L170.4,576.7 L167.7,576.7 L165.0,576.7 L162.4,576.7 L159.7,576.7 L157.0,576.7 L154.3,576.7 L151.6,576.7 L149.0,576.7 L146.3,576.7 L143.6,576.7 L140.9,576.7 L138.2,576.7 L135.5,576.7Z" fill="#008000" stroke="none"/>
<path d="M135.5,576.4 L138.2,576.4 L140.9,576.4 L143.6,576.4 L146.3,576.4 L149.0,576.4 L151.6,576.4 L154.3,576.4 L157.0,576.4 L159.7,576.4 L162.4,576.4 L165.0,576.4 L167.7,576.4 L170.4,576.4 L173.1,576.4 L175.7,576.3 L178.4,576.0 L181.0,575.7 L183.7,575.4 L186.4,575.0 L189.0,574.7 L191.7,574.4 L194.4,574.1 L197.0,573.8 L199.7,573.5 L202.3,573.2 L205.0,572.9 L207.7,572.5 L210.3,572.2 L213.0,571.9 L215.7,571.6 L218.3,571.3 L221.0,570.9 L223.6,570.6 L226.3,570.3 L229.0,570.0 L231.6,569.6 L234.3,569.3 L237.0,569.0 L239.6,568.6 L242.3,568.3 L244.9,568.0 L247.6,567.6 L250.3,567.3 L252.9,566.9 L255.6,566.6 L258.2,566.2 L260.9,565.9 L263.6,565.5 L266.2,565.2 L268.9,564.8 L271.5,564.5 L274.2,564.1 L276.8,563.7 L279.5,563.4 L282.2,563.0 L284.8,562.6 L287.5,562.2 L290.1,561.9 L292.8,561.5 L295.4,561.1 L298.1,560.7 L300.7,560.3 L303.4,559.9 L306.0,559.5 L308.7,559.1 L311.3,558.7 L314.0,558.3 L316.6,557.9 L319.3,557.5 L321.9,557.1 L324.6,556.6 L327.2,556.2 L329.9,555.8 L332.5,555.3 L335.2,554.9 L337.8,554.5 L340.5,554.0 L343.1,553.5 L345.7,553.1 L348.4,552.6 L351.0,552.1 L353.7,551.7 L356.3,551.2 L358.9,550.7 L361.6,550.2 L364.2,549.7 L366.8,549.2 L369.5,548.7 L372.1,548.1 L374.7,547.6 L377.3,547.1 L380.0,546.5 L382.6,545.9 L385.2,545.4 L387.8,544.8 L390.4,544.2 L393.0,543.6 L395.6,543.0 L398.3,542.4 L400.9,541.8 L403.5,541.1 L406.1,540.5 L408.7,539.8 L411.2,539.1 L413.8,538.4 L416.4,537.7 L419.0,537.0 L421.6,536.3 L424.1,535.5 L426.7,534.8 L429.3,534.0 L431.8,533.2 L434.3,532.3 L436.9,531.5 L439.4,530.6 L441.9,529.7 L444.4,528.8 L447.0,527.9 L449.4,526.9 L451.9,526.0 L454.4,524.9 L456.8,523.9 L459.3,522.8 L461.7,521.7 L464.1,520.6 L466.5,519.4 L468.9,518.2 L471.2,516.9 L473.6,515.7 L475.9,514.3 L478.2,513.0 L480.4,511.5 L482.6,510.1 L484.8,508.6 L487.0,507.0 L489.1,505.5 L491.2,503.8 L493.3,502.1 L495.3,500.4 L497.2,498.6 L499.1,496.8 L501.0,494.9 L502.8,493.0 L504.6,491.0 L506.3,489.0 L508.0,486.9 L509.6,484.8 L511.2,482.7 L512.7,480.5 L514.2,478.3 L515.6,476.0 L516.9,473.8 L518.3,471.5 L519.6,469.1 L520.8,466.8 L522.0,464.4 L523.2,462.0 L524.2,459.6 L525.1,457.1 L526.0,454.6 L526.8,452.1 L527.5,449.5 L528.3,446.9 L529.0,444.4 L529.7,441.8 L530.3,439.2 L531.0,436.6 L531.6,434.0 L532.3,431.4 L532.9,428.8 L533.5,426.2 L534.0,423.6 L534.5,421.1 L535.0,418.5 L535.5,415.9 L536.0,413.3 L536.4,410.6 L536.8,408.0 L537.2,405.4 L537.6,402.7 L538.0,400.1 L538.4,397.4 L538.7,394.8 L539.1,392.1 L539.5,389.4 L539.9,386.8 L540.3,384.1 L540.7,381.5 L541.1,378.8 L541.5,376.2 L541.9,373.5 L542.3,370.9 L542.7,368.2 L543.1,365.6 L543.6,362.9 L544.0,360.3 L544.5,357.6 L544.9,355.0 L545.4,352.3 L545.9,349.7 L546.4,347.0 L547.0,344.4 L547.5,341.8 L547.8,339.1 L548.2,336.5 L548.6,333.8 L549.0,331.2 L549.4,328.5 L549.7,325.8 L549.8,323.1 L550.0,320.5 L550.2,317.8 L550.4,315.1 L550.7,312.4 L551.0,309.7 L551.3,307.1 L551.6,304.4 L551.9,301.7 L552.2,299.1 L552.5,296.4 L552.9,293.8 L553.2,291.1 L553.5,288.4 L553.9,285.8 L554.2,283.1 L554.5,280.5 L554.9,277.8 L555.2,275.2 L555.6,272.5 L555.9,269.8 L556.2,267.2 L556.6,264.5 L556.9,261.9 L557.3,259.2 L557.6,256.6 L557.9,253.9 L558.3,251.3 L558.6,248.6 L558.9,246.0 L559.2,243.3 L559.5,240.6 L559.8,237.9 L560.1,235.3 L560.5,232.6 L560.8,229.9 L561.2,227.2 L561.7,224.5 L562.1,221.9 L562.6,219.2 L563.2,216.5 L563.8,213.9 L564.5,211.2 L565.3,208.6 L566.1,206.0 L566.9,203.4 L567.9,200.8 L568.8,198.2 L569.9,195.7 L571.0,193.2 L572.3,190.7 L573.5,188.3 L574.8,185.9 L576.1,183.6 L577.6,181.2 L579.0,178.9 L580.5,176.7 L582.0,174.4 L583.5,172.2 L584.9,169.9 L586.3,167.6 L587.6,165.3 L589.0,162.9 L590.4,160.5 L592.0,158.3 L593.7,156.2 L595.7,154.3 L597.9,152.5 L600.0,150.8 L602.1,149.2 L604.2,147.5 L606.4,145.9 L608.6,144.3 L610.8,142.8 L613.1,141.3 L615.4,139.9 L617.7,138.4 L620.0,137.1 L622.3,135.7 L624.7,134.4 L627.0,133.1 L629.4,131.9 L631.8,130.6 L634.3,129.4 L636.7,128.3 L639.1,127.1 L641.6,126.0 L644.1,125.0 L646.5,123.9 L649.0,122.9 L651.5,121.9 L654.0,120.9 L656.5,119.9 L659.1,119.0 L661.6,118.1 L664.1,117.2 L666.7,116.3 L669.2,115.5 L671.8,114.6 L674.3,113.8 L676.9,113.0 L679.5,112.2 L682.1,111.5 L684.6,110.7 L687.2,110.0 L689.8,109.3 L692.4,108.6 L695.0,107.9 L697.6,107.2 L700.2,106.5 L702.8,105.9 L705.4,105.2 L708.0,104.6 L710.6,104.0 L713.3,103.4 L715.9,102.8 L718.5,102.2 L721.1,101.6 L723.7,101.0 L726.4,100.5 L729.0,99.9 L731.6,99.4 L734.2,98.9 L736.9,98.3 L739.5,97.8 L742.1,97.3 L744.8,96.8 L747.4,96.3 L750.1,95.8 L752.7,95.3 L755.3,94.9 L758.0,94.4 L760.6,93.9 L763.3,93.5 L765.9,93.0 L768.6,92.6 L771.2,92.1 L773.8,91.7 L776.5,91.3 L779.1,90.8 L781.8,90.4 L784.4,90.0 L787.1,89.6 L789.7,89.2 L792.4,88.8 L795.0,88.4 L797.7,88.0 L800.4,87.6 L803.0,87.2 L805.7,86.8 L808.3,86.4 L811.0,86.0 L813.6,85.7 L816.3,85.3 L818.9,84.9 L821.6,84.6 L824.3,84.2 L826.9,83.8 L829.6,83.5 L832.2,83.1 L834.9,82.8 L837.6,82.4 L840.2,82.1 L842.9,81.8 L845.5,81.4 L848.2,81.1 L850.9,80.8 L853.5,80.4 L856.2,80.1 L858.8,79.8 L861.5,79.4 L864.2,79.1 L866.8,78.8 L869.5,78.5 L872.2,78.2 L874.8,77.9 L877.5,77.6 L880.1,77.2 L882.8,76.9 L885.5,76.6 L888.1,76.3 L890.8,76.0 L893.5,75.7 L896.1,75.4 L898.8,75.1 L901.5,74.8 L904.1,74.6 L906.8,74.3 L909.5,74.0 L912.1,73.7 L914.8,73.4 L917.5,73.2 L920.1,72.9 L922.8,72.6 L925.5,72.3 L928.2,72.1 L930.8,72.1 L933.5,72.1 L936.2,72.1 L938.9,72.1 L941.5,72.1 L944.2,72.1 L946.9,72.1 L949.6,72.1 L952.3,72.1 L954.9,72.1 L957.6,72.1 L960.3,72.1 L963.0,72.1 L965.7,72.1" fill="none" stroke="#008000" stroke-width="5.3" stroke-linejoin="round"/>
<path d="M135.5,576.7 L138.2,576.7 L140.9,576.7 L143.6,576.7 L146.3,576.7 L149.0,576.7 L151.6,576.7 L154.3,576.7 L157.0,576.7 L159.7,576.7 L162.4,576.7 L165.0,576.7 L167.7,576.7 L170.4,576.7 L173.1,576.7 L175.7,576.6 L178.4,576.3 L181.1,576.0 L183.7,575.7 L186.4,575.4 L189.1,575.1 L191.7,574.7 L194.4,574.4 L197.1,574.1 L199.7,573.8 L202.4,573.5 L205.0,573.2 L207.7,572.9 L210.4,572.6 L213.0,572.2 L215.7,571.9 L218.4,571.6 L221.0,571.3 L223.7,571.0 L226.4,570.6 L229.0,570.3 L231.7,570.0 L234.3,569.7 L237.0,569.3 L239.7,569.0 L242.3,568.7 L245.0,568.3 L247.6,568.0 L250.3,567.7 L253.0,567.3 L255.6,567.0 L258.3,566.6 L260.9,566.3 L263.6,566.0 L266.3,565.6 L268.9,565.3 L271.6,564.9 L274.2,564.5 L276.9,564.2 L279.6,563.8 L282.2,563.5 L284.9,563.1 L287.5,562.7 L290.2,562.4 L292.8,562.0 L295.5,561.6 L298.2,561.3 L300.8,560.9 L303.5,560.5 L306.1,560.1 L308.8,559.7 L311.4,559.3 L314.1,558.9 L316.7,558.6 L319.4,558.2 L322.0,557.8 L324.7,557.3 L327.3,556.9 L330.0,556.5 L332.6,556.1 L335.3,555.7 L337.9,555.3 L340.6,554.8 L343.2,554.4 L345.9,554.0 L348.5,553.5 L351.2,553.1 L353.8,552.6 L356.5,552.1 L359.1,551.7 L361.7,551.2 L364.4,550.7 L367.0,550.2 L369.7,549.7 L372.3,549.2 L374.9,548.7 L377.6,548.2 L380.2,547.7 L382.8,547.2 L385.5,546.6 L388.1,546.1 L390.7,545.5 L393.3,545.0 L396.0,544.4 L398.6,543.8 L401.2,543.2 L403.8,542.6 L406.4,542.0 L409.0,541.3 L411.6,540.7 L414.2,540.0 L416.8,539.4 L419.4,538.7 L422.0,538.0 L424.6,537.2 L427.2,536.5 L429.8,535.7 L432.4,535.0 L434.9,534.2 L437.5,533.3 L440.0,532.5 L442.6,531.6 L445.1,530.7 L447.7,529.8 L450.2,528.9 L452.7,527.9 L455.2,526.9 L457.7,525.9 L460.2,524.8 L462.6,523.7 L465.1,522.6 L467.5,521.4 L469.9,520.2 L472.3,519.0 L474.7,517.7 L477.1,516.3 L479.4,515.0 L481.7,513.5 L484.0,512.1 L486.2,510.6 L488.4,509.0 L490.6,507.4 L492.7,505.7 L494.8,504.0 L496.9,502.2 L498.9,500.4 L500.9,498.5 L502.8,496.6 L504.6,494.6 L506.5,492.6 L508.2,490.6 L509.9,488.5 L511.6,486.3 L513.2,484.1 L514.8,481.9 L516.3,479.6 L517.7,477.4 L519.1,475.0 L520.4,472.7 L521.8,470.3 L523.1,467.9 L524.3,465.5 L525.4,463.0 L526.5,460.6 L527.5,458.1 L528.5,455.5 L529.5,453.0 L530.4,450.4 L531.3,447.9 L532.1,445.3 L533.0,442.8 L533.8,440.2 L534.7,437.7 L535.5,435.1 L536.3,432.5 L537.0,429.9 L537.7,427.2 L538.3,424.6 L538.9,421.9 L539.4,419.3 L539.8,416.6 L540.2,413.9 L540.6,411.3 L541.0,408.6 L541.3,405.9 L541.7,403.3 L542.0,400.6 L542.3,397.9 L542.6,395.2 L542.9,392.6 L543.1,389.9 L543.4,387.2 L543.7,384.6 L544.0,381.9 L544.3,379.2 L544.5,376.5 L544.8,373.9 L545.0,371.2 L545.3,368.5 L545.5,365.8 L545.7,363.2 L545.9,360.5 L546.1,357.8 L546.3,355.2 L546.6,352.5 L546.8,349.8 L547.0,347.1 L547.2,344.4 L547.5,341.8 L547.8,339.1 L548.2,336.5 L548.6,333.8 L549.0,331.2 L549.4,328.5 L550.0,325.9 L550.7,323.3 L551.3,320.7 L552.0,318.1 L552.6,315.5 L553.3,312.8 L553.9,310.2 L554.5,307.6 L555.1,305.0 L555.7,302.4 L556.2,299.7 L556.8,297.1 L557.3,294.5 L557.8,291.8 L558.3,289.2 L558.8,286.5 L559.3,283.9 L559.7,281.2 L560.2,278.6 L560.6,275.9 L561.1,273.3 L561.5,270.6 L561.9,268.0 L562.3,265.3 L562.7,262.7 L563.1,260.0 L563.5,257.4 L563.9,254.7 L564.3,252.0 L564.6,249.4 L565.0,246.7 L565.3,244.0 L565.6,241.4 L566.0,238.7 L566.3,236.1 L566.7,233.4 L567.1,230.8 L567.5,228.2 L567.9,225.6 L568.4,223.0 L568.8,220.4 L569.3,217.8 L569.8,215.2 L570.3,212.6 L570.8,210.0 L571.3,207.4 L571.9,204.8 L572.5,202.3 L573.2,199.7 L573.9,197.2 L574.7,194.7 L575.7,192.3 L576.7,189.8 L577.7,187.4 L578.8,185.0 L580.0,182.7 L581.3,180.4 L582.7,178.1 L584.2,175.8 L585.6,173.6 L587.1,171.3 L588.5,168.9 L589.8,166.5 L591.1,164.2 L592.5,161.9 L594.0,159.8 L595.6,157.9 L597.4,156.2 L599.4,154.5 L601.5,152.8 L603.6,151.1 L605.7,149.5 L607.9,147.9 L610.0,146.4 L612.2,144.9 L614.4,143.4 L616.7,141.9 L618.9,140.5 L621.2,139.1 L623.5,137.8 L625.8,136.5 L628.2,135.2 L630.5,133.9 L632.9,132.7 L635.3,131.5 L637.7,130.3 L640.1,129.2 L642.5,128.1 L644.9,127.0 L647.4,125.9 L649.8,124.9 L652.3,123.8 L654.8,122.8 L657.3,121.9 L659.8,120.9 L662.3,120.0 L664.8,119.1 L667.3,118.2 L669.8,117.3 L672.4,116.4 L674.9,115.6 L677.5,114.8 L680.0,114.0 L682.6,113.2 L685.1,112.4 L687.7,111.6 L690.3,110.9 L692.8,110.1 L695.4,109.4 L698.0,108.7 L700.6,108.0 L703.2,107.3 L705.8,106.7 L708.4,106.0 L711.0,105.4 L713.6,104.7 L716.2,104.1 L718.8,103.5 L721.4,102.9 L724.0,102.3 L726.6,101.7 L729.2,101.1 L731.9,100.5 L734.5,100.0 L737.1,99.4 L739.7,98.9 L742.4,98.3 L745.0,97.8 L747.6,97.3 L750.2,96.8 L752.9,96.3 L755.5,95.8 L758.1,95.3 L760.8,94.8 L763.4,94.3 L766.1,93.8 L768.7,93.4 L771.3,92.9 L774.0,92.4 L776.6,92.0 L779.3,91.5 L781.9,91.1 L784.5,90.7 L787.2,90.2 L789.8,89.8 L792.5,89.4 L795.1,89.0 L797.8,88.6 L800.4,88.2 L803.1,87.8 L805.7,87.4 L808.4,87.0 L811.0,86.6 L813.7,86.2 L816.4,85.8 L819.0,85.4 L821.7,85.0 L824.3,84.7 L827.0,84.3 L829.6,83.9 L832.3,83.6 L834.9,83.2 L837.6,82.9 L840.3,82.5 L842.9,82.2 L845.6,81.8 L848.2,81.5 L850.9,81.1 L853.6,80.8 L856.2,80.5 L858.9,80.1 L861.5,79.8 L864.2,79.5 L866.9,79.1 L869.5,78.8 L872.2,78.5 L874.9,78.2 L877.5,77.9 L880.2,77.6 L882.8,77.3 L885.5,76.9 L888.2,76.6 L890.8,76.3 L893.5,76.0 L896.2,75.7 L898.8,75.4 L901.5,75.1 L904.2,74.8 L906.8,74.5 L909.5,74.2 L912.2,73.9 L914.8,73.7 L917.5,73.4 L920.2,73.1 L922.8,72.8 L925.5,72.4 L928.2,72.2 L930.8,72.2 L933.5,72.2 L936.2,72.2 L938.9,72.2 L941.5,72.2 L944.2,72.2 L946.9,72.2 L949.6,72.2 L952.3,72.2 L954.9,72.2 L957.6,72.2 L960.3,72.2 L963.0,72.2 L965.7,72.2" fill="none" stroke="#008000" stroke-width="5.3" stroke-linejoin="round"/>
</g>
<g stroke="#000" stroke-width="3" fill="none">
<rect x="135.5" y="11.5" width="828.7" height="608.5"/>
</g>
<g stroke="#000" stroke-width="2.6" fill="none">
<line x1="123.5" y1="11.5" x2="135.5" y2="11.5"/>
<line x1="123.5" y1="89.6" x2="135.5" y2="89.6"/>
<line x1="123.5" y1="167.5" x2="135.5" y2="167.5"/>
<line x1="123.5" y1="245.5" x2="135.5" y2="245.5"/>
<line x1="123.5" y1="323.2" x2="135.5" y2="323.2"/>
<line x1="123.5" y1="401.5" x2="135.5" y2="401.5"/>
<line x1="123.5" y1="479.5" x2="135.5" y2="479.5"/>
<line x1="123.5" y1="557.5" x2="135.5" y2="557.5"/>
<line x1="135.5" y1="620.0" x2="135.5" y2="632.5"/>
<line x1="239.1" y1="620.0" x2="239.1" y2="632.5"/>
<line x1="342.6" y1="620.0" x2="342.6" y2="632.5"/>
<line x1="446.2" y1="620.0" x2="446.2" y2="632.5"/>
<line x1="549.7" y1="620.0" x2="549.7" y2="632.5"/>
<line x1="653.3" y1="620.0" x2="653.3" y2="632.5"/>
<line x1="756.9" y1="620.0" x2="756.9" y2="632.5"/>
<line x1="860.4" y1="620.0" x2="860.4" y2="632.5"/>
<line x1="964.2" y1="620.0" x2="964.2" y2="632.5"/>
</g>
<line x1="171.3" y1="46.6" x2="237.2" y2="46.6" stroke="#000" stroke-width="5.4" stroke-linecap="round"/>
<line x1="171.3" y1="83.8" x2="237.2" y2="83.8" stroke="#ff0000" stroke-width="5.4" stroke-linecap="round"/>
<line x1="171.3" y1="121" x2="237.2" y2="121" stroke="#0000ff" stroke-width="5.4" stroke-linecap="round"/>
<line x1="171.3" y1="158.4" x2="237.2" y2="158.4" stroke="#ff00ff" stroke-width="5.4" stroke-linecap="round"/>
<line x1="171.3" y1="195.8" x2="237.2" y2="195.8" stroke="#008000" stroke-width="5.4" stroke-linecap="round"/>
<g font-family="Liberation Sans, sans-serif" font-size="24.4" fill="#000">
<text transform="translate(115.2,18.2) scale(1,1.075)" text-anchor="end">40</text>
<text transform="translate(115.2,98.9) scale(1,1.075)" text-anchor="end">30</text>
<text transform="translate(115.2,176.8) scale(1,1.075)" text-anchor="end">20</text>
<text transform="translate(115.2,254.8) scale(1,1.075)" text-anchor="end">10</text>
<text transform="translate(115.2,332.5) scale(1,1.075)" text-anchor="end">0</text>
<text transform="translate(115.2,410.8) scale(1,1.075)" text-anchor="end">-10</text>
<text transform="translate(115.2,488.8) scale(1,1.075)" text-anchor="end">-20</text>
<text transform="translate(115.2,566.8) scale(1,1.075)" text-anchor="end">-30</text>
<text transform="translate(135.5,661) scale(1,1.075)" text-anchor="middle">-20000</text>
<text transform="translate(239.1,661) scale(1,1.075)" text-anchor="middle">-15000</text>
<text transform="translate(342.6,661) scale(1,1.075)" text-anchor="middle">-10000</text>
<text transform="translate(446.2,661) scale(1,1.075)" text-anchor="middle">-5000</text>
<text transform="translate(549.7,661) scale(1,1.075)" text-anchor="middle">0</text>
<text transform="translate(653.3,661) scale(1,1.075)" text-anchor="middle">5000</text>
<text transform="translate(756.9,661) scale(1,1.075)" text-anchor="middle">10000</text>
<text transform="translate(860.4,661) scale(1,1.075)" text-anchor="middle">15000</text>
<text transform="translate(964.2,661) scale(1,1.075)" text-anchor="middle">20000</text>
</g>
<g font-family="Liberation Serif, serif" fill="#000">
<text x="249" y="57.0" font-size="27.5">X= 0.0</text>
<text x="249" y="94.2" font-size="27.5">X= 0.1</text>
<text x="249" y="131.4" font-size="27.5">X= 0.2</text>
<text x="249" y="168.8" font-size="27.5">X= 0.3</text>
<text x="249" y="206.20000000000002" font-size="27.5">X= 0.4</text>
<text transform="translate(748.3,49) scale(1,1.07)" font-size="29.5" letter-spacing="1.35">Sol-gel</text>
<text x="394" y="715" font-size="37" textLength="310" lengthAdjust="spacingAndGlyphs">Magnetic Field (Oe)</text>
<text transform="translate(30,508.5) rotate(-90) scale(1,1.06)" font-size="38.7">Magnetic Moment (emu/g)</text>
</g>
</svg>
</body></html>
